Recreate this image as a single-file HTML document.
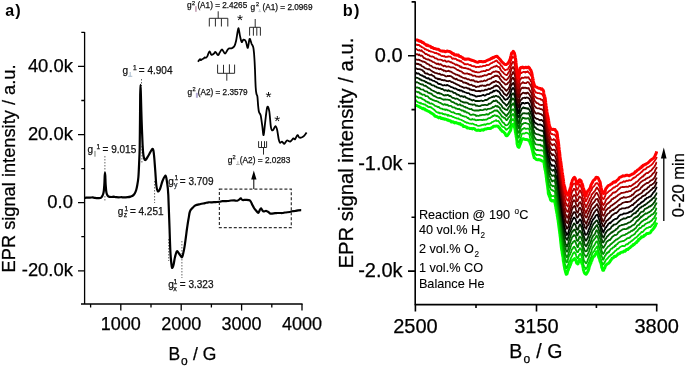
<!DOCTYPE html>
<html><head><meta charset="utf-8">
<style>
html,body{margin:0;padding:0;background:#fff;width:685px;height:366px;overflow:hidden}
svg{display:block;-webkit-font-smoothing:antialiased;will-change:transform;font-family:"Liberation Sans",sans-serif}
.ax text,text.ax{stroke:#000;stroke-width:0.25px}.lg text{stroke:#000;stroke-width:0.1px}text.lg2{stroke:#000;stroke-width:0.2px}
</style></head>
<body>
<svg width="685" height="366" viewBox="0 0 685 366">
<rect width="685" height="366" fill="#fff"/>
<!-- ================= Panel a ================= -->
<text x="5.2" y="15.7" font-size="16" font-weight="bold">a</text><text x="15.3" y="15.7" font-size="16.3" font-weight="bold">)</text>
<g stroke="#000" stroke-width="1.3" fill="none">
  <path d="M84.6,32 V304.6 M81,304 H302.6"/>
  <path d="M78,66.4 H84.6 M78,134.6 H84.6 M78,202.6 H84.6 M78,270.8 H84.6"/>
  <path d="M81.3,32.4 H84.6 M81.3,100.5 H84.6 M81.3,168.7 H84.6 M81.3,236.7 H84.6"/>
  <path d="M120.8,304 V310.6 M181.2,304 V310.6 M241.6,304 V310.6 M302,304 V310.6"/>
  <path d="M90.6,304 V307.5 M151,304 V307.5 M211.4,304 V307.5 M271.8,304 V307.5"/>
</g>
<g class="ax" font-size="18.4" text-anchor="end">
  <text x="72.9" y="71.5">40.0k</text>
  <text x="72.9" y="139.7">20.0k</text>
  <text x="72.9" y="207.6">0.0</text>
  <text x="72.9" y="275.7">-20.0k</text>
</g>
<g class="ax" font-size="18" text-anchor="middle">
  <text x="120.8" y="329.8">1000</text>
  <text x="181.2" y="329.8">2000</text>
  <text x="241.6" y="329.8">3000</text>
  <text x="302" y="329.8">4000</text>
</g>
<g class="ax"><text x="168.4" y="359.9" font-size="17.5">B</text><text x="180.9" y="364.6" font-size="12">o</text><text x="193.1" y="359.9" font-size="17.5">/ G</text></g>
<text class="ax" transform="translate(14.6,168.5) rotate(-90)" font-size="18.25" text-anchor="middle">EPR signal intensity / a.u.</text>

<!-- dotted guide lines -->
<g stroke="#555" stroke-width="0.9" stroke-dasharray="1.5,1.5" fill="none">
  <path d="M104.9,156 V173 M104.9,196 V201"/>
  <path d="M141.5,79 V86 M141.9,146 V164"/>
  <path d="M154.6,181 V203"/>
  <path d="M168.7,239 V261"/>
  <path d="M181.9,241 V278"/>
</g>
<!-- main spectrum -->
<path d="M84.8,197.8 C85.2,197.8 86.5,197.6 87.4,197.5 C88.3,197.5 89.2,197.6 90,197.6 C90.8,197.6 91.7,197.4 92.5,197.4 C93.3,197.5 94.1,197.8 95,197.9 C95.9,198 96.8,198.1 97.7,198.1 C98.6,198.1 99.7,198.2 100.4,198 C101.1,197.8 101.4,197.4 101.8,196.8 C102.2,196.2 102.7,195.5 103,194.5 C103.3,193.5 103.6,192.6 103.8,191 C104,189.4 104.1,187.5 104.3,185 C104.5,182.5 104.6,178 104.7,176 C104.8,174 104.9,172.8 105,172.8 C105.1,172.8 105.2,174 105.3,176 C105.4,178 105.5,182.5 105.7,185 C105.9,187.5 106,189.4 106.2,191 C106.4,192.6 106.6,193.6 107,194.5 C107.4,195.4 107.8,196.1 108.5,196.5 C109.2,196.9 110.4,197 111.3,197 C112.2,197 113,196.7 113.8,196.7 C114.6,196.8 115.5,197.1 116.3,197.2 C117.1,197.3 117.9,197.3 118.8,197.3 C119.7,197.3 120.5,197.2 121.4,197.2 C122.3,197.2 123,197.4 124,197.4 C125,197.4 126.6,197.3 127.7,197.2 C128.8,197.1 129.6,196.9 130.5,196.6 C131.4,196.3 132.2,196.1 133,195.5 C133.8,194.9 134.5,193.9 135,193 C135.5,192.1 135.8,191.3 136.2,190 C136.6,188.7 136.9,187.2 137.3,185 C137.7,182.8 138.1,180.6 138.4,177 C138.7,173.4 138.9,168.5 139.1,163.7 C139.3,158.9 139.5,155.3 139.7,148 C139.8,140.7 139.9,128.8 140,120 C140.1,111.2 140.1,100.9 140.2,95 C140.3,89.1 140.4,84.8 140.5,84.8 C140.6,84.8 140.7,89.1 140.9,95 C141.1,100.9 141.3,111.7 141.6,120 C141.9,128.3 142.3,139.2 142.6,145 C142.9,150.8 143.1,152.7 143.4,155 C143.7,157.3 143.9,158 144.3,158.8 C144.7,159.6 144.9,160.6 145.6,160 C146.3,159.4 147.3,157.4 148.5,155.5 C149.7,153.6 151.6,148.9 152.5,148.8 C153.4,148.7 153.6,151.5 154,155 C154.4,158.5 154.8,165 155.2,170 C155.6,175 155.9,181.5 156.3,185 C156.7,188.5 157.2,190.5 157.8,191.2 C158.4,191.9 159.2,190.7 160,189 C160.8,187.3 161.6,183.2 162.5,181 C163.4,178.8 164.8,175.3 165.5,175.5 C166.2,175.7 166.5,178.8 167,182 C167.5,185.2 167.9,187 168.3,195 C168.7,203 169.2,220.5 169.6,230 C169.9,239.5 170.1,246.7 170.4,252 C170.7,257.3 170.9,259.4 171.2,262 C171.5,264.6 171.6,267.2 172,267.7 C172.4,268.2 173,266.8 173.5,265 C174,263.2 174.4,259.3 175,257 C175.6,254.7 176.2,251.9 176.9,251.3 C177.6,250.7 178.2,252.5 179,253.5 C179.8,254.5 181.2,257.4 181.9,257.3 C182.6,257.2 182.9,254.8 183.3,253 C183.8,251.2 184,250.2 184.6,246.4 C185.2,242.6 186.2,234.6 186.8,230 C187.5,225.4 187.9,222.2 188.5,219 C189.1,215.8 189.3,212.9 190.1,211 C190.8,209.1 192.1,208.4 193,207.5 C193.9,206.6 194.3,205.9 195.6,205.3 C196.8,204.7 198.9,204.4 200.5,204 C202.1,203.6 203.7,203.4 205,203.1 C206.3,202.8 207.3,202.4 208.5,202.3 C209.7,202.2 210.8,202.3 212,202.3 C213.2,202.3 214.5,202.1 215.7,202.1 C216.9,202 218.3,202 219.4,201.8 C220.5,201.6 221.3,201.2 222.3,201.1 C223.2,201 224.2,201.2 225.1,201.2 C226.1,201.2 227,201.1 228,201 C229,200.9 230.1,200.6 231.1,200.5 C232.1,200.4 233.2,200.4 234.2,200.4 C235.2,200.5 236.4,200.9 237.3,200.7 C238.2,200.5 238.9,199.7 239.5,199.3 C240.1,198.9 240.3,198.3 240.8,198.4 C241.3,198.5 241.6,199.8 242.5,200 C243.4,200.2 244.8,199.8 246,199.8 C247.2,199.9 248.8,199.9 249.6,200.3 C250.4,200.7 250.5,201.2 251,202 C251.5,202.8 251.9,204 252.4,205 C252.9,206 253.4,207.1 254,208 C254.6,208.9 255.3,209.7 256,210.5 C256.7,211.3 257.7,212.9 258.3,212.8 C258.9,212.7 259.4,210.7 259.8,210 C260.2,209.3 260.6,208.3 261,208.4 C261.4,208.5 262.1,210 262.5,210.5 C262.9,211 263.1,211.4 263.6,211.5 C264.1,211.6 264.9,211.1 265.5,211 C266.1,210.9 266.4,210.9 267,211.2 C267.6,211.4 268.4,212.1 269,212.5 C269.6,212.9 269.6,213.5 270.6,213.6 C271.6,213.7 273.9,213.3 275,213.2 C276.1,213.1 276.7,213.1 277.5,213 C278.3,213 279.2,213 280,213 C280.8,213 281.7,213.1 282.5,213 C283.3,213 283.8,212.7 285,212.5 C286.2,212.3 288.7,212.2 289.9,212 C291.1,211.8 291.6,211.3 292.4,211.2 C293.3,211 294.1,211.1 295,211 C295.9,210.9 297.1,210.5 298.1,210.3 C299.1,210.2 300.7,210.1 301.2,210.1" fill="none" stroke="#000" stroke-width="2.2" stroke-linejoin="round"/>
<!-- zoom box -->
<rect x="219.4" y="189.1" width="71.9" height="38.6" fill="none" stroke="#333" stroke-width="1.2" stroke-dasharray="3,2"/>
<path d="M253.8,189 V178" stroke="#000" stroke-width="1"/>
<path d="M253.8,170.5 L251.2,179.5 L256.5,179.5 Z" fill="#000"/>
<!-- inset -->
<path d="M198,61.8 C198.3,61.4 199.4,59.6 199.9,59.3 C200.4,59 200.6,60.2 201,60.2 C201.4,60.2 202,59.3 202.4,59 C202.8,58.7 203.1,58.9 203.5,58.6 C203.9,58.3 204.4,57.5 204.8,57.4 C205.2,57.3 205.6,58 206,57.8 C206.4,57.6 206.7,57.4 207.3,56.4 C207.9,55.4 208.7,51.8 209.4,51.5 C210.1,51.2 210.7,54.4 211.4,54.8 C212.2,55.1 213.2,54.1 213.9,53.6 C214.6,53.1 214.8,51.7 215.5,52 C216.2,52.3 217.3,55.1 218,55.2 C218.7,55.3 218.9,53.8 219.6,52.8 C220.3,51.8 221.1,49.4 222,49.5 C222.9,49.6 224,53.6 225,53.6 C226,53.6 227.1,50.4 227.8,49.5 C228.5,48.6 228.7,48.6 229.4,48.4 C230.1,48.2 231.1,48.6 231.9,48.2 C232.7,47.8 233.6,47.4 234.3,46.2 C235,45.1 235.5,43.5 236,41.3 C236.5,39.1 237,35.2 237.4,33 C237.8,30.8 238.1,28.4 238.4,28.2 C238.7,28 239,30.6 239.3,32 C239.6,33.4 239.7,34.7 240.1,36.4 C240.5,38.1 241.1,41.5 241.7,42.1 C242.2,42.7 242.7,39.8 243.4,39.7 C244.1,39.6 245.1,39.9 245.8,41.3 C246.5,42.7 247.2,48.3 247.8,47.9 C248.4,47.5 249,39.6 249.6,38.9 C250.2,38.2 251,42.4 251.6,43.8 C252.2,45.1 252.8,45.5 253.2,47 C253.6,48.5 253.8,50.6 254,52.8 C254.2,55 254.3,57.1 254.5,60 C254.7,62.9 254.8,65.4 255,70 C255.2,74.6 255.4,83.5 255.7,87.5 C255.9,91.5 256.2,92.5 256.5,94 C256.8,95.5 257.1,94.5 257.4,96.6 C257.7,98.7 257.9,103.8 258.2,106.4 C258.5,109 258.6,110.6 259,112.1 C259.4,113.6 260.1,113.1 260.7,115.4 C261.2,117.7 261.8,122.7 262.3,126 C262.8,129.3 263.1,135.6 263.6,135.1 C264.1,134.6 264.5,127.4 265.1,122.8 C265.7,118.2 266.5,109.3 267.2,107.4 C267.9,105.5 268.7,107.9 269.3,111.3 C269.9,114.7 270.4,124.6 271,127.7 C271.6,130.8 272.3,130.5 273,130.2 C273.7,129.9 274.7,126.2 275.4,126.1 C276.1,126 276.4,127.1 277,129.3 C277.6,131.5 278.2,136.9 278.7,139.2 C279.2,141.4 279.4,142.4 280,142.8 C280.6,143.2 281.3,141.4 282,141.6 C282.7,141.8 283.6,144 284.4,143.8 C285.2,143.6 285.9,140.9 286.9,140.5 C287.9,140.1 289.1,141.9 290.2,141.6 C291.3,141.2 292.6,138.8 293.4,138.4 C294.2,138 294.4,139.8 295.1,139.2 C295.8,138.6 296.8,135.4 297.5,135.1 C298.2,134.8 298.5,137.1 299.2,137.5 C299.9,137.9 300.8,137.8 301.6,137.5 C302.4,137.2 303.3,136.7 304.1,135.9 C304.9,135.1 306.2,133.2 306.6,132.6" fill="none" stroke="#000" stroke-width="1.8" stroke-linejoin="round"/>
<g stroke="#2a2a2a" stroke-width="1" fill="none">
  <path d="M218.2,11.3 V18.3 M209.3,18.3 H227.8 M209.3,18.3 V26.5 M215.4,18.3 V26.5 M221.4,18.3 V26.5 M227.8,18.3 V26.5"/>
  <path d="M255.2,19 V27.3 M249.6,27.3 H260.4 M249.6,27.3 V35.7 M253.4,27.3 V35.7 M256.8,27.3 V35.7 M260.4,27.3 V35.7"/>
  <path d="M217.6,64.6 V73.3 M223.5,64.8 V73.3 M229.4,64.3 V73.3 M234.6,64.6 V73.3 M217.6,73.3 H234.6 M226.8,73.3 V80.7"/>
  <path d="M258.6,141.2 V147.5 M261.5,141.2 V147.5 M264.5,141.2 V147.5 M266.6,141.2 V147.5 M258.6,147.5 H266.6 M263.5,147.5 V154.6"/>
</g>
<g font-size="15.5" text-anchor="middle">
  <text x="240" y="25">*</text>
  <text x="268.5" y="102.2">*</text>
  <text x="277.2" y="126.4">*</text>
</g>
<!-- annotations -->
<g fill="#111" stroke="#111" stroke-width="0.25">
  <!-- g2||(A1) = 2.4265 -->
  <text x="186.9" y="7.9" font-size="8.3">g</text>
  <text x="192.1" y="4.5" font-size="5.6">2</text>
  <rect x="195" y="6.2" width="1.8" height="5.6" fill="#c8a8b8" stroke="none"/>
  <text x="197.4" y="7.9" font-size="8.2">(A1) = 2.4265</text>
  <!-- g2perp(A1) = 2.0969 -->
  <text x="250.5" y="9.9" font-size="8.3">g</text>
  <text x="255.9" y="5.7" font-size="5.6">2</text>
  <path d="M259.7,9 V11.6 M258.3,11.6 H261.1" stroke="#b8c0c8" stroke-width="0.8" fill="none"/>
  <text x="262.6" y="9.9" font-size="8.2">(A1) = 2.0969</text>
  <!-- g2||(A2) = 2.3579 -->
  <text x="187.4" y="94.7" font-size="8.3">g</text>
  <text x="192.4" y="91.2" font-size="5.6">2</text>
  <rect x="195.9" y="92.8" width="2" height="5" fill="#b0a8d0" stroke="none"/>
  <text x="197.8" y="94.7" font-size="8.2">(A2) = 2.3579</text>
  <!-- g2perp(A2) = 2.0283 -->
  <text x="227.8" y="162.8" font-size="8.5">g</text>
  <text x="232.5" y="159.2" font-size="5.6">2</text>
  <path d="M237.9,161.2 V164.5 M236,164.5 H239.7" stroke="#aaa" stroke-width="0.9" fill="none"/>
  <text x="239.8" y="162.8" font-size="8.3">(A2) = 2.0283</text>
  <!-- g_perp^1 = 4.904 -->
  <text x="122.6" y="73.8" font-size="10">g</text>
  <path d="M130.2,72 V76.3 M128.2,76.3 H132.3" stroke="#9fb4c8" stroke-width="0.9" fill="none"/>
  <text x="133" y="69.6" font-size="6.6">1</text>
  <text x="138.8" y="73.8" font-size="10">= 4.904</text>
  <!-- g_par^1 = 9.015 -->
  <text x="87.4" y="152.9" font-size="10">g</text>
  <rect x="94" y="150.9" width="1.9" height="5.8" fill="#b4b8b4" stroke="none"/>
  <text x="96.6" y="148.7" font-size="6.5">1</text>
  <text x="102.6" y="152.9" font-size="10">= 9.015</text>
  <!-- g_y, g_z, g_x -->
  <text x="168.2" y="184.6" font-size="10">g</text>
  <text x="174.4" y="180" font-size="6.6">1</text>
  <text x="173.9" y="187" font-size="6.8" fill="#456">y</text>
  <text x="179.8" y="184.5" font-size="10">= 3.709</text>
  <text x="117.8" y="215" font-size="10">g</text>
  <text x="124.4" y="210.6" font-size="6.6">1</text>
  <text x="123.8" y="217.3" font-size="6.8">z</text>
  <text x="129.9" y="214.7" font-size="10">= 4.251</text>
  <text x="168.2" y="287.6" font-size="10">g</text>
  <text x="173.4" y="284.3" font-size="6.8">1</text>
  <text x="173.2" y="290.6" font-size="7">x</text>
  <text x="179.8" y="287.6" font-size="10">= 3.323</text>
</g>

<!-- ================= Panel b ================= -->
<text x="342.8" y="15.7" font-size="16.3" font-weight="bold">b</text><text x="354" y="15.7" font-size="16.3" font-weight="bold">)</text>
<path d="M415.5,105.2 L416,105.6 L416.8,105.5 L417.7,106 L418.6,106.5 L419.3,106.7 L420.1,107.4 L420.8,107.6 L421.6,108 L422.4,108.8 L423.2,108.2 L424,109.1 L424.8,108.9 L425.6,110.1 L426.4,110.2 L427.3,110.8 L428.1,111.1 L428.9,111.6 L429.6,111.8 L430.5,112.6 L431.4,113.1 L432.5,113.7 L433.9,114.7 L435.1,116.2 L436.3,116.4 L437.2,116.9 L438.1,117.3 L438.8,117.9 L439.6,117.3 L440.4,117.5 L441.3,118.5 L442.1,118.2 L442.9,118.8 L443.7,118.6 L444.5,119.2 L445.3,119.1 L446.1,119.4 L446.9,119.7 L447.7,120.3 L448.5,120 L449.4,120.8 L450.4,120.8 L451.4,122 L452.5,121.7 L453.5,122 L454.5,123 L455.6,122.5 L456.6,122.9 L457.6,123.3 L458.5,123.5 L459.3,124 L460.1,123.6 L460.9,124.7 L461.7,124.9 L462.6,124.9 L463.4,126.5 L464.2,126.6 L465,126.5 L465.8,127 L466.6,127 L467.4,128 L468.3,127.9 L469.1,128.1 L469.9,128.6 L470.7,128.5 L471.5,128.5 L472.3,128.9 L473.1,128.5 L473.9,128.5 L474.6,128.9 L475.4,129.7 L476.1,130.1 L477,130.5 L478,130 L479.1,130.3 L480.2,130.6 L481.2,129.9 L482.3,129.8 L483.4,130.2 L484.4,129.3 L485.5,129 L486.6,128.9 L487.8,128.4 L488.9,128.4 L490,128.5 L491,128.2 L491.9,127.4 L492.7,127.2 L493.5,126.2 L494.3,126.2 L495,126.3 L495.6,126.1 L496.3,125.9 L497,126 L497.6,126.3 L498.3,126.3 L499,127.7 L499.7,128 L500.5,129.4 L501.3,129.9 L502,131.2 L502.6,131.3 L503.2,131.7 L503.8,132.1 L504.4,132.9 L505,133.3 L505.5,134.7 L506.1,135.5 L506.8,135.8 L507.6,135.2 L508.6,133.9 L509.5,132.1 L510.2,131.2 L510.7,130.1 L510.9,128.6 L511.2,127.7 L511.4,126.3 L511.7,125.5 L512,125.6 L512.2,124.9 L512.5,125.3 L512.8,124.5 L513,124.3 L513.3,124.9 L513.6,124.1 L513.9,125.6 L514.2,125.7 L514.4,126.9 L514.7,127.7 L515,129.1 L515.2,130.2 L515.4,132.3 L515.6,132.8 L515.7,133.3 L515.8,134.3 L515.9,134.4 L516,134.8 L516.1,135.8 L516.2,136.9 L516.3,137 L516.5,137.7 L516.6,138.6 L516.7,139.6 L516.8,140.2 L516.9,140.6 L517,142.1 L517,142.9 L517.1,144.1 L517.3,144.1 L517.6,145.6 L518,146.6 L518.5,147.1 L518.9,147.4 L519.3,146.6 L519.7,145.1 L520.1,144.6 L520.6,143 L521.1,141.8 L521.5,140.3 L522.1,139.4 L523,138.7 L524.3,139.2 L526,139.4 L527.6,139.7 L528.8,140.5 L529.4,140.4 L529.7,141.1 L529.8,142.5 L530,142.5 L530.3,143.6 L530.6,144.2 L530.9,145.1 L531.2,145.4 L531.4,146.3 L531.6,147.1 L531.8,147.9 L532,149.2 L532.2,149.6 L532.5,150.9 L532.7,151.2 L532.9,152.8 L533.1,153.1 L533.2,154.1 L533.4,154.8 L533.7,155.8 L534,157 L534.2,157.8 L534.7,157.9 L535.3,158.5 L536.3,159.6 L537.6,159.8 L539,159.6 L540.2,160 L541.2,160.4 L542.2,161.1 L543,161.3 L543.6,161.3 L543.9,161.7 L544.1,162.3 L544.1,163.4 L544.2,164.3 L544.4,165.1 L544.5,166.5 L544.6,167.2 L544.8,167.5 L544.9,168.8 L545.1,169.7 L545.2,170.2 L545.4,170.9 L545.6,171.9 L545.7,173.1 L545.9,173.9 L546,174.8 L546.1,175.4 L546.2,176.6 L546.3,177.1 L546.4,177.8 L546.5,178.6 L546.6,179.9 L546.7,180.4 L546.8,181.3 L546.9,182.1 L547,182.3 L547.1,182.9 L547.2,183.8 L547.4,185.2 L547.5,185.7 L547.6,186.5 L547.7,187.3 L547.8,188.4 L547.9,189 L548,189.7 L548.1,190.3 L548.2,191.1 L548.2,191.9 L548.3,193.1 L548.5,194.1 L548.8,194.6 L549.1,195.7 L549.4,196.2 L549.8,197.4 L550.1,197.8 L550.4,199.5 L550.7,199.9 L551,200.4 L551.3,200.6 L551.7,200.5 L552.1,201 L552.5,200.5 L553,200.5 L553.6,200.7 L554.2,200.8 L554.6,201.9 L554.9,202 L555,202.9 L555.1,203.1 L555.2,204.2 L555.4,204.5 L555.5,205.3 L555.7,206.6 L555.9,207.3 L556,208.7 L556.2,209.1 L556.3,210.1 L556.5,211 L556.6,211.6 L556.8,212.9 L557,213 L557.1,213.7 L557.2,215.3 L557.3,215.7 L557.5,216.9 L557.6,217.2 L557.7,218.4 L557.8,218.7 L557.9,219.7 L558.1,220 L558.2,221.2 L558.3,222.2 L558.4,222.5 L558.5,223.5 L558.7,225.1 L558.8,225.7 L558.9,226.6 L559,227.4 L559.1,228.1 L559.3,229.6 L559.4,230.5 L559.5,230.8 L559.6,232 L559.7,233 L559.8,233.5 L559.9,233.7 L560,235.2 L560.1,235.9 L560.2,236.7 L560.3,237.4 L560.4,237.9 L560.5,239.9 L560.6,240.3 L560.7,241.3 L560.8,242.3 L560.9,243.4 L561,243.9 L561.1,245 L561.2,245.9 L561.3,247.1 L561.4,247.5 L561.5,248.9 L561.6,248.7 L561.7,249.9 L561.9,250.4 L562,250.9 L562.1,251.7 L562.2,252.6 L562.3,253.7 L562.5,254.5 L562.6,255.4 L562.7,255.9 L562.8,256.3 L563,256.9 L563.1,257.9 L563.2,259.5 L563.3,260.7 L563.4,261.4 L563.6,261.8 L563.7,262.8 L563.8,263.3 L563.9,263.7 L564,264.4 L564.1,265.4 L564.2,265.9 L564.4,266.7 L564.6,268 L564.9,269.6 L565.2,270.5 L565.5,271.9 L565.8,272.6 L566,273.7 L566.3,274.3 L566.6,273.6 L567.1,273.7 L567.6,271.4 L568.2,270.2 L568.7,268.6 L569.1,267.5 L569.4,267.3 L569.8,266.4 L570.1,264.9 L570.4,264.8 L570.7,263.6 L571.1,263 L571.5,261.2 L572,260.8 L572.6,260.2 L573.3,259.7 L573.8,259.4 L574.3,259 L574.7,258.6 L575,258.7 L575.4,259.4 L575.8,260.1 L576.1,261.2 L576.5,262.7 L576.8,263.3 L577.1,263.3 L577.4,263.5 L577.7,264 L578,263.8 L578.3,262.8 L578.7,261.9 L579.1,260.6 L579.4,259.8 L579.7,259.4 L580,260 L580.3,259.7 L580.6,260.3 L581,261.4 L581.4,262.2 L581.8,263.2 L582.2,264.4 L582.5,264.5 L582.7,265.4 L582.9,267 L583.1,267 L583.3,268.9 L583.5,270.2 L583.7,270.5 L584,271.7 L584.5,273.1 L585,273.5 L585.6,274 L586.2,274.3 L586.8,273.3 L587.4,272.2 L587.9,271.5 L588.4,270.1 L588.8,269.2 L589.1,267.8 L589.4,266.4 L589.8,265.6 L590.1,264.7 L590.5,263.5 L590.8,263.5 L591.1,261.8 L591.5,260.9 L591.8,260.8 L592.1,259.9 L592.5,258.3 L593,257.4 L593.6,256.5 L594.2,256.3 L594.8,255.4 L595.3,254.3 L596,253.3 L596.5,251.8 L597,251.6 L597.3,251.6 L597.5,252.6 L597.7,253.7 L597.9,254.3 L598.2,254.4 L598.4,255.8 L598.6,256.8 L598.9,257.6 L599.1,257.9 L599.3,258.4 L599.6,259.1 L599.8,260.3 L600.1,261.5 L600.3,261.7 L600.6,262.4 L600.9,263.2 L601.2,264.3 L601.5,265.6 L601.7,267.2 L602,268.1 L602.3,268.1 L602.5,269.2 L602.8,270.2 L603.1,270.1 L603.5,270.3 L603.9,269.5 L604.3,268.5 L604.8,268 L605.1,266.8 L605.5,265.6 L605.9,265.4 L606.4,264.6 L606.9,264.1 L607.5,263.8 L608,263.6 L608.6,263.2 L609.1,262.6 L609.7,262.1 L610.2,261 L610.8,260.4 L611.4,259.5 L612.1,258.3 L612.8,258.1 L613.5,257.6 L614.2,256.6 L614.8,256.2 L615.5,256.5 L616.3,255.9 L617.3,255 L618.3,253.7 L619.5,253.8 L620.6,252.6 L621.7,252.2 L622.9,252.1 L624,251 L625,251.3 L625.8,250.4 L626.5,249.6 L627.1,249.5 L627.8,249.5 L628.4,248.7 L629.1,248.2 L629.8,247.8 L630.5,247.2 L631.2,246.5 L631.9,245.9 L632.5,245.7 L633.2,244.6 L633.9,244.7 L634.6,244 L635.3,243.3 L635.9,242.7 L636.5,242.5 L637,241.5 L637.6,241.2 L638.1,240.9 L638.6,239.5 L639.2,239.3 L639.7,239 L640.3,238.3 L640.9,238 L641.6,236.7 L642.3,236.9 L643,236.8 L643.7,236.4 L644.3,235.3 L645,235.2 L645.8,234.6 L646.8,233.5 L648,233.5 L649.2,233.1 L650.2,232.8 L650.9,231.7 L651.4,230.8 L651.9,230.3 L652.4,230 L652.9,229.3 L653.4,228.7 L654,228.2 L654.5,226.9 L655.1,226.4 L655.7,224.7 L656.3,223.6 L656.7,222.5" fill="none" stroke="#00ff00" stroke-width="3.0" stroke-linejoin="round"/>
<path d="M415.5,99.9 L416,100.4 L416.8,101.5 L417.7,102.1 L418.6,102.5 L419.3,102.6 L420.1,103.5 L420.8,102.8 L421.6,103.7 L422.4,103.9 L423.2,104 L424,104.5 L424.8,104.4 L425.6,104.8 L426.4,105.9 L427.3,105.9 L428.1,106.9 L428.9,107.1 L429.6,106.9 L430.5,107.1 L431.4,107.6 L432.5,108.6 L433.9,109.5 L435.1,110.7 L436.3,111.9 L437.2,112.3 L438.1,112.8 L438.8,112.4 L439.6,113.3 L440.4,113.1 L441.3,113.3 L442.1,113.2 L442.9,114.1 L443.7,113.8 L444.5,114.6 L445.3,114.1 L446.1,114.7 L446.9,114.6 L447.7,115.7 L448.5,115 L449.4,115.9 L450.4,115.8 L451.4,116 L452.5,116.9 L453.5,117 L454.5,117.6 L455.6,117.8 L456.6,118.4 L457.6,118.7 L458.5,118.5 L459.3,119.3 L460.1,119.5 L460.9,119.7 L461.7,120.1 L462.6,120.7 L463.4,120.8 L464.2,121.5 L465,122 L465.8,122.1 L466.6,122.8 L467.4,122.7 L468.3,123 L469.1,123.5 L469.9,123.7 L470.7,123.7 L471.5,123.8 L472.3,123.5 L473.1,123.8 L473.9,124.4 L474.6,124.7 L475.4,124.8 L476.1,124.8 L477,125.5 L478,125.8 L479.1,125.8 L480.2,125.5 L481.2,125.3 L482.3,124.9 L483.4,124.9 L484.4,124.4 L485.5,124.9 L486.6,124 L487.8,123.7 L488.9,123.9 L490,123.5 L491,123.2 L491.9,122.2 L492.7,122 L493.5,121.5 L494.3,121 L495,120.8 L495.6,120.4 L496.3,120.2 L497,121.2 L497.6,121 L498.3,120.8 L499,121.8 L499.7,122.9 L500.5,124 L501.3,125.3 L502,126.3 L502.6,126.7 L503.2,127.1 L503.8,127.1 L504.4,127.4 L504.9,128.1 L505.5,128.9 L506.1,129.9 L506.8,129.6 L507.6,128.7 L508.5,128.3 L509.4,127.1 L510.1,125.6 L510.6,124.7 L510.9,123.1 L511.1,121.5 L511.4,120.7 L511.7,119.8 L511.9,119.3 L512.2,120.3 L512.5,119.5 L512.8,119.3 L513,120 L513.3,119.1 L513.6,120.2 L513.9,120.3 L514.2,120.8 L514.4,121.5 L514.7,122.4 L515,124.1 L515.2,125.3 L515.4,125.9 L515.6,127 L515.7,127.8 L515.8,129.4 L515.9,129.8 L516,130.9 L516.1,131.8 L516.2,132.2 L516.3,133.1 L516.4,133.8 L516.6,134.4 L516.7,135.2 L516.8,135 L516.9,135.5 L516.9,136.4 L517,137.3 L517.1,138.9 L517.3,139.8 L517.6,141.1 L518,142 L518.4,142 L518.9,142.6 L519.3,141.3 L519.7,140.2 L520.1,139.5 L520.6,138.2 L521,137 L521.5,134.9 L522.1,133.8 L522.9,133.5 L524.3,133.7 L525.9,132.7 L527.6,133.1 L528.8,133.9 L529.4,134.4 L529.7,135.4 L529.8,137.1 L530,137.8 L530.3,138.7 L530.6,139.1 L530.9,140.2 L531.2,141.1 L531.5,141.5 L531.7,142.5 L531.8,143.1 L532,144.1 L532.2,144.6 L532.5,145.6 L532.7,146.4 L532.9,147.4 L533.1,147.6 L533.2,149.2 L533.4,149.9 L533.7,150.9 L534,151.5 L534.2,153 L534.7,153 L535.3,153.6 L536.3,155 L537.7,154.9 L539,154.8 L540.2,155.2 L541.2,155.7 L542.2,155.9 L543,156.4 L543.6,156.7 L543.9,156.8 L544,157.6 L544.1,158.1 L544.2,159 L544.3,159.6 L544.5,161.5 L544.6,162.3 L544.8,163 L544.9,164.3 L545,164.2 L545.2,165.1 L545.3,165.9 L545.5,166.9 L545.7,167.7 L545.8,168.8 L545.9,169.1 L546.1,170 L546.2,170.7 L546.3,171.7 L546.4,172.6 L546.5,173 L546.6,174.5 L546.7,174.5 L546.8,175.1 L546.9,176 L547,176.6 L547.1,178.1 L547.2,178.5 L547.3,179.2 L547.4,179.9 L547.5,181.4 L547.6,182.4 L547.7,182.8 L547.8,184.4 L547.9,185 L548,185.6 L548.1,186.2 L548.2,187.2 L548.3,188.2 L548.4,189 L548.7,190 L549,190.3 L549.3,191.1 L549.7,192.1 L550,192.4 L550.3,193.9 L550.6,194.9 L550.9,195.4 L551.2,195 L551.6,196.1 L552,195.9 L552.4,196.2 L553,196.1 L553.6,196.2 L554.1,195.8 L554.6,196.7 L554.9,197.4 L555.1,198.1 L555.2,199.6 L555.4,200.3 L555.6,201.7 L555.8,202.1 L556,203.1 L556.2,204.8 L556.5,205.1 L556.7,206.6 L556.9,207 L557.1,207.7 L557.2,209.2 L557.3,210.1 L557.4,210.8 L557.5,211.4 L557.7,211.9 L557.8,213.1 L557.9,214.1 L558,214.8 L558.1,215.8 L558.2,215.9 L558.4,216.5 L558.5,217.3 L558.6,218.7 L558.7,219.4 L558.8,220.4 L558.9,221.2 L559.1,221.8 L559.2,223.3 L559.3,223.8 L559.4,225.3 L559.5,225.9 L559.6,226.7 L559.7,227.1 L559.8,228.5 L559.9,229.4 L560,230 L560.1,229.9 L560.2,231 L560.3,232.1 L560.4,232.5 L560.5,233.4 L560.6,235 L560.7,235.8 L560.8,236.6 L560.9,237.6 L561,238.6 L561.1,239.6 L561.2,240.5 L561.3,241.1 L561.4,241.8 L561.5,242.5 L561.7,243.3 L561.8,244 L561.9,244.6 L562,245.7 L562.2,246.7 L562.3,246.8 L562.4,248.5 L562.5,249.4 L562.7,250.5 L562.8,250.8 L562.9,252.4 L563,252.5 L563.1,253.6 L563.3,254.3 L563.4,254.6 L563.5,255.8 L563.6,256.5 L563.8,257 L563.9,258.3 L564,259.3 L564.1,259.9 L564.2,260.8 L564.4,261.7 L564.6,262.4 L564.9,263.8 L565.2,264.8 L565.5,265.3 L565.8,266.7 L566.1,267.8 L566.3,268.3 L566.7,268.2 L567.2,267.1 L567.7,265.7 L568.3,264.4 L568.8,262.8 L569.2,261.5 L569.5,261.1 L569.8,261 L570.2,259.9 L570.5,259 L570.8,258.5 L571.1,257.7 L571.5,256.9 L572.1,255.9 L572.6,254.6 L573.2,253.1 L573.8,253 L574.2,252.1 L574.6,252.5 L575,252.8 L575.4,253.8 L575.8,253.9 L576.1,255.5 L576.5,256.8 L576.8,257.3 L577.1,257.2 L577.4,258.1 L577.7,258.3 L578,258 L578.3,257 L578.7,256.4 L579,255.2 L579.4,254.6 L579.7,254.2 L580,253.7 L580.3,253.8 L580.6,253.6 L581,254.9 L581.4,255.8 L581.8,257.6 L582.2,258.8 L582.4,259.3 L582.7,260.7 L582.9,260.9 L583.1,261.7 L583.3,263.3 L583.4,264.2 L583.7,265.4 L584,266.3 L584.4,267.2 L585,267.4 L585.6,269 L586.2,268.9 L586.8,267.9 L587.4,266.5 L587.9,264.7 L588.4,263.7 L588.9,262.7 L589.2,261.7 L589.5,260.5 L589.8,260.4 L590.1,259.5 L590.5,258.4 L590.8,257.9 L591.1,257.1 L591.5,255.9 L591.8,254.9 L592.1,253.8 L592.5,253.1 L593,252.4 L593.6,251.5 L594.2,251.2 L594.8,249.8 L595.3,248.7 L595.9,248.2 L596.5,247.2 L597,246.4 L597.4,246.6 L597.8,247.9 L598.1,250 L598.4,251.2 L598.8,251.7 L599.1,253.1 L599.5,253.7 L599.8,254.8 L600.1,255.9 L600.4,256.7 L600.6,258.2 L600.9,259.1 L601.2,260 L601.4,261.4 L601.7,261.9 L602,262.7 L602.3,262.8 L602.5,264 L602.8,264.4 L603.1,264.6 L603.5,263.9 L603.9,263.8 L604.3,262.6 L604.8,261.7 L605.2,261.8 L605.5,260.2 L606,259.9 L606.4,259.4 L606.9,259.1 L607.5,258.5 L608,257.9 L608.6,257.2 L609.1,256.4 L609.7,256.2 L610.2,255.6 L610.8,254.7 L611.4,254.8 L612.1,254.2 L612.8,253.3 L613.5,252.8 L614.2,252.1 L614.8,251.1 L615.5,250.8 L616.3,250.3 L617.3,248.8 L618.3,248.9 L619.5,247.7 L620.6,246.7 L621.7,246.2 L622.9,245.8 L624,246.2 L625,245.8 L625.8,244.7 L626.5,244.4 L627.1,244.2 L627.8,244.4 L628.4,243.4 L629.1,242.5 L629.8,242.5 L630.5,241.9 L631.2,241.2 L631.9,240.9 L632.5,240.1 L633.2,239.8 L633.9,239.1 L634.6,238.5 L635.3,237.9 L635.9,237.7 L636.5,237.1 L637,236.7 L637.6,236.2 L638.1,235.5 L638.6,235 L639.2,234.4 L639.7,234 L640.3,233.4 L640.9,232.8 L641.6,231.9 L642.3,232.2 L643,231.6 L643.7,230.8 L644.3,230 L645,229.4 L645.8,228.7 L646.8,227.8 L648,227.8 L649.2,226.9 L650.2,227.1 L650.9,226.8 L651.4,225.5 L651.9,225.8 L652.4,224.7 L652.9,224.7 L653.4,223.6 L654,223 L654.5,222 L655.1,221.3 L655.7,219.6 L656.3,217.7 L656.7,217.3" fill="none" stroke="#00db00" stroke-width="1.8" stroke-linejoin="round"/>
<path d="M415.5,95.7 L416,96.4 L416.8,96.6 L417.7,97.1 L418.6,97.9 L419.3,97.7 L420.1,97.7 L420.8,98 L421.6,98.1 L422.4,99.2 L423.2,99.4 L424,99.8 L424.8,100.3 L425.6,101 L426.4,101.7 L427.3,101.6 L428.1,102.6 L428.9,102.3 L429.6,103.4 L430.5,103.6 L431.4,103.4 L432.5,104 L433.9,104.8 L435.1,105.9 L436.3,106.2 L437.2,106.6 L438.1,107.1 L438.8,106.8 L439.6,107.9 L440.4,108.3 L441.3,108.6 L442.1,108.7 L442.9,109.3 L443.7,109.3 L444.5,109.3 L445.3,110 L446.1,109.5 L446.9,109.7 L447.7,110.4 L448.5,110.3 L449.4,110.7 L450.4,111.3 L451.4,112.2 L452.5,112.3 L453.5,112.1 L454.5,113.1 L455.6,113.5 L456.6,113.8 L457.6,113.8 L458.5,113.8 L459.3,114.5 L460.1,114.2 L460.9,115.4 L461.7,115.4 L462.6,116 L463.4,116.1 L464.2,116.5 L465,116.6 L465.8,116.7 L466.6,117 L467.4,118 L468.3,117.9 L469.1,119 L469.9,119.3 L470.7,119.6 L471.5,119.7 L472.3,119 L473.1,119.4 L473.9,119.6 L474.6,119.3 L475.4,120.2 L476.1,120.3 L477,120 L478,120.2 L479.1,119.8 L480.2,119.9 L481.2,119.9 L482.3,120.2 L483.4,119.6 L484.4,119.9 L485.5,119.7 L486.6,119.7 L487.8,118.6 L488.9,118.2 L490,118 L491,117.3 L491.9,116.9 L492.7,115.9 L493.5,116.2 L494.3,115.2 L495,115.3 L495.6,115.6 L496.3,116.1 L497,115.6 L497.6,116.4 L498.3,116.3 L499,117.1 L499.7,118 L500.5,118.9 L501.3,120 L502,121.4 L502.6,122.4 L503.2,122.6 L503.8,122.8 L504.4,123.7 L504.9,124.4 L505.5,125.1 L506.1,125.3 L506.7,125.2 L507.5,125 L508.5,123.9 L509.4,122.3 L510.1,120.7 L510.6,119.2 L510.9,118.7 L511.1,117.6 L511.3,116.3 L511.6,115.1 L511.9,114.9 L512.2,114.9 L512.5,114.3 L512.8,114.7 L513,114.1 L513.3,114 L513.6,114.6 L513.9,114.6 L514.2,115.6 L514.4,116.6 L514.7,117.3 L515,118.3 L515.2,120 L515.4,121.4 L515.6,121.9 L515.7,122.5 L515.8,123.6 L515.9,123.6 L516,124.3 L516.1,125.2 L516.2,126.4 L516.3,127.9 L516.4,128.8 L516.5,129.5 L516.7,130 L516.8,130.2 L516.9,131.7 L516.9,131.7 L517,133 L517.1,133.3 L517.3,134.5 L517.6,135.3 L518,136.5 L518.4,137.2 L518.8,137.9 L519.2,136.6 L519.6,135 L520,133.7 L520.5,131.9 L521,130.7 L521.4,130.5 L522,129.2 L522.9,128.9 L524.2,128 L525.9,128.9 L527.5,128.7 L528.8,128.7 L529.4,129.9 L529.7,130.9 L529.8,132 L530,132.7 L530.3,133.2 L530.6,133.8 L531,135.3 L531.2,135.7 L531.5,136.4 L531.7,137.5 L531.9,137.8 L532.1,138.3 L532.3,139.3 L532.5,140.1 L532.7,141 L532.9,141.6 L533,142.3 L533.2,143.8 L533.4,144.2 L533.7,145 L534,146.7 L534.2,147.2 L534.7,148.1 L535.3,149.2 L536.4,150.1 L537.7,149.9 L539,150.3 L540.2,150.3 L541.2,150.1 L542.1,150.5 L542.9,150.6 L543.5,151 L543.9,152.4 L544,152.7 L544,153.3 L544.1,154.4 L544.3,155.1 L544.4,156.3 L544.6,157 L544.7,157.4 L544.9,157.8 L545,158.2 L545.1,159.6 L545.3,160.4 L545.4,160.6 L545.6,162.2 L545.7,162.5 L545.9,163.7 L546,164.7 L546.1,165.4 L546.2,166.5 L546.3,167.3 L546.4,167.6 L546.5,168.4 L546.6,169.8 L546.7,169.9 L546.8,171 L546.9,171.8 L547,172.9 L547.1,173.1 L547.2,174.2 L547.3,174.2 L547.4,175.5 L547.5,176.2 L547.6,177.3 L547.7,178.3 L547.8,178.8 L547.9,179.8 L548,180.9 L548.1,181.1 L548.2,182.6 L548.4,182.6 L548.6,184.2 L548.9,184.9 L549.3,185.9 L549.6,185.8 L549.9,187.6 L550.2,187.5 L550.5,188.7 L550.8,189.1 L551.2,189.8 L551.5,189.8 L551.9,189.9 L552.4,190.6 L552.9,190.3 L553.5,191 L554.1,191.2 L554.6,191.1 L554.9,192.3 L555.1,192.6 L555.2,194.4 L555.4,195.2 L555.6,195.6 L555.8,196.5 L556,198.1 L556.2,198.8 L556.4,199.6 L556.7,200.4 L556.9,201.3 L557.1,202.4 L557.2,203.4 L557.3,203.7 L557.4,204.2 L557.5,205.7 L557.6,206 L557.7,206.9 L557.8,207.4 L558,208.5 L558.1,209.5 L558.2,209.6 L558.3,210.5 L558.4,211.9 L558.5,212.2 L558.6,213.3 L558.7,213.8 L558.9,214.9 L559,215.9 L559.1,216.1 L559.2,217.9 L559.3,218.7 L559.4,219.3 L559.5,220 L559.6,221.2 L559.7,221.6 L559.8,222.8 L559.9,223.4 L560,223.8 L560.1,224.3 L560.2,225.7 L560.3,226.2 L560.4,227.9 L560.5,228.9 L560.6,229.4 L560.7,230.8 L560.8,231.2 L560.9,232.1 L561,233.4 L561.1,233.8 L561.2,234.4 L561.4,236.1 L561.5,236.5 L561.6,237.1 L561.7,238.2 L561.9,238.7 L562,239.5 L562.1,240.2 L562.2,241 L562.3,241.7 L562.5,242 L562.6,243.5 L562.7,244 L562.8,245 L563,245.8 L563.1,246.8 L563.2,248.4 L563.3,248.8 L563.5,250 L563.6,250.8 L563.7,251.8 L563.8,251.9 L563.9,253.4 L564,253.5 L564.2,254 L564.3,254.6 L564.6,256.4 L564.9,257.7 L565.2,259.1 L565.6,259.4 L565.8,260.9 L566.1,261.8 L566.4,262.4 L566.8,262.3 L567.3,262 L567.8,260 L568.4,257.7 L568.9,256.4 L569.3,255.6 L569.6,255.5 L569.9,254.5 L570.2,254.3 L570.5,252.9 L570.8,252.6 L571.2,251.8 L571.6,250.1 L572.1,249.3 L572.7,248.7 L573.2,247.6 L573.8,247 L574.2,246.6 L574.6,247.3 L575,248 L575.4,248 L575.7,249.5 L576.1,250.3 L576.4,250.8 L576.8,252 L577.1,252.1 L577.4,251.9 L577.7,251.7 L578,252.1 L578.3,251.4 L578.7,250.2 L579,249.5 L579.4,249.5 L579.7,248.9 L580,248.1 L580.2,248.4 L580.6,248.5 L581,249.1 L581.4,249.9 L581.8,251.2 L582.1,252.6 L582.4,253.5 L582.6,254.7 L582.8,255.5 L583.1,256 L583.2,256.8 L583.4,257.7 L583.6,259.1 L584,260.7 L584.4,261.2 L585,261.9 L585.5,262.7 L586.1,263.4 L586.7,262.6 L587.4,261.2 L588,259.1 L588.5,258.2 L588.9,257.6 L589.2,255.9 L589.5,255.5 L589.8,254.9 L590.2,254.1 L590.5,252.9 L590.8,252.6 L591.2,251.9 L591.5,251 L591.8,249.4 L592.1,248.9 L592.5,247.6 L593,247.2 L593.6,246.1 L594.2,245.7 L594.8,244.3 L595.3,243.5 L595.9,242.2 L596.5,241.3 L597,241.3 L597.4,241.4 L597.8,242.7 L598.1,243.9 L598.4,245.5 L598.8,245.8 L599.1,247.5 L599.5,248 L599.8,249.9 L600.1,250 L600.4,251.2 L600.6,251.7 L600.9,252.6 L601.2,253.6 L601.4,254.7 L601.7,256 L602,256.9 L602.3,257.5 L602.6,258.8 L602.8,259.5 L603.2,259.8 L603.5,259.2 L604,258.4 L604.4,257 L604.8,256.3 L605.2,255.4 L605.6,255.4 L606,254.3 L606.4,253.5 L606.9,252.8 L607.5,253.3 L608,252.4 L608.6,251.7 L609.1,252 L609.7,250.7 L610.2,250 L610.8,249.1 L611.4,248.6 L612.1,248.7 L612.8,247.4 L613.5,247.3 L614.2,247 L614.8,245.7 L615.5,246 L616.3,244.5 L617.3,244.1 L618.3,242.9 L619.5,242 L620.6,241.6 L621.7,241.3 L622.9,241 L624,240.9 L625,240.1 L625.8,239.6 L626.5,239 L627.1,238.4 L627.8,238.2 L628.4,238.2 L629.1,237.6 L629.8,237.8 L630.5,236.9 L631.2,236 L631.9,235.7 L632.5,235.3 L633.2,235 L633.9,234.5 L634.6,234.1 L635.3,233.2 L635.9,232 L636.5,231.7 L637,231.1 L637.6,230.9 L638.1,229.7 L638.6,229.4 L639.2,228.7 L639.7,227.9 L640.3,228.1 L640.9,227.8 L641.6,227 L642.3,226.1 L643,225.7 L643.7,225.9 L644.3,225.3 L645,224.3 L645.8,223.8 L646.8,223.3 L648,222.5 L649.2,222.4 L650.2,221.3 L650.9,221.3 L651.4,220.4 L651.9,220.5 L652.4,219.6 L652.9,218.9 L653.4,218.7 L654,218.3 L654.5,217 L655.1,215.8 L655.7,214.6 L656.3,213.2 L656.7,212.3" fill="none" stroke="#00b600" stroke-width="1.8" stroke-linejoin="round"/>
<path d="M415.5,91.4 L416,91.5 L416.8,91.7 L417.7,92.3 L418.6,92 L419.3,92.5 L420.1,93.6 L420.8,93.4 L421.6,94.3 L422.4,94.8 L423.2,94.6 L424,94.7 L424.8,95 L425.6,96.1 L426.4,96.1 L427.3,96.2 L428.1,96.6 L428.9,97.9 L429.6,98.3 L430.5,99 L431.4,99.1 L432.5,99.9 L433.9,100.4 L435.1,100.8 L436.3,101 L437.2,101.4 L438.1,101.7 L438.8,102.2 L439.6,102.6 L440.4,102.8 L441.3,103.5 L442.1,103.9 L442.9,104.4 L443.7,104.8 L444.5,104.1 L445.3,104.4 L446.1,105.1 L446.9,104.6 L447.7,104.8 L448.5,105.9 L449.4,105.8 L450.4,105.8 L451.4,106.1 L452.5,107.3 L453.5,107.4 L454.5,107.3 L455.6,108.5 L456.6,108.5 L457.6,109 L458.5,109.2 L459.3,108.9 L460.1,109.7 L460.9,109.8 L461.7,110.7 L462.6,110.5 L463.4,110.6 L464.2,111.7 L465,111.2 L465.8,111.7 L466.6,112.7 L467.4,112.5 L468.3,113 L469.1,113.4 L469.9,114.5 L470.7,114.8 L471.5,114.8 L472.3,114.6 L473.1,114.4 L473.9,114.6 L474.6,114.9 L475.4,114.9 L476.1,116.1 L477,115.5 L478,115.8 L479.1,115.8 L480.2,115.1 L481.2,115.3 L482.3,114.8 L483.4,114.9 L484.4,114.8 L485.5,114.7 L486.6,114.1 L487.8,114.6 L488.9,114.1 L490,112.9 L491,112.8 L491.9,112.2 L492.7,112 L493.5,111.2 L494.3,110.7 L495,110.3 L495.6,110.6 L496.3,110.8 L497,110.3 L497.6,111 L498.3,111.7 L499,112.5 L499.7,113.1 L500.5,114.2 L501.3,115.5 L502,116.7 L502.6,116.7 L503.2,117.3 L503.8,117.8 L504.3,117.9 L504.9,118 L505.4,118.9 L506,119.7 L506.7,120.1 L507.5,119.3 L508.4,117.6 L509.3,117 L510.1,115.7 L510.5,114.6 L510.8,112.6 L511.1,112 L511.3,111 L511.6,109.6 L511.9,109.9 L512.2,109.4 L512.5,109.8 L512.7,109.5 L513,109.8 L513.3,109.7 L513.6,109.2 L513.9,109.6 L514.2,110.5 L514.4,111 L514.7,111.7 L515,112.9 L515.2,113.9 L515.4,115.7 L515.6,116.7 L515.7,116.8 L515.8,118.3 L515.9,118.7 L516,119.6 L516.1,120.5 L516.2,120.8 L516.3,122 L516.4,123 L516.5,123.6 L516.6,124.6 L516.8,125.9 L516.9,126.4 L516.9,127.2 L517,128.3 L517.1,129.2 L517.3,129.1 L517.6,130.4 L517.9,131.9 L518.4,132.7 L518.8,132.9 L519.2,132.4 L519.6,131.1 L520,129.2 L520.5,127.2 L520.9,126.3 L521.4,125.5 L521.9,123.9 L522.8,124 L524.1,123.1 L525.8,123 L527.5,123.6 L528.7,123.8 L529.4,124.8 L529.7,125.9 L529.8,126.8 L530,127.6 L530.3,128.2 L530.7,128.3 L531,129.4 L531.3,129.6 L531.5,130.2 L531.7,132.1 L531.9,132.3 L532.1,134.1 L532.3,134.8 L532.5,135.6 L532.7,136.3 L532.9,136.9 L533,138.1 L533.2,138.2 L533.4,138.7 L533.7,139.9 L533.9,141.1 L534.2,141.8 L534.7,142.6 L535.3,144.1 L536.4,144.4 L537.7,144.6 L539,144.9 L540.2,144.7 L541.2,145.8 L542.1,145.6 L542.9,146.1 L543.5,147.2 L543.8,147.3 L544,147.8 L544,148.9 L544.1,149.5 L544.2,150 L544.4,150.4 L544.5,151.2 L544.7,152.6 L544.8,152.5 L544.9,153.3 L545.1,154.7 L545.2,154.8 L545.4,156.6 L545.5,156.7 L545.7,157.9 L545.8,158.7 L545.9,159.3 L546,159.7 L546.1,161 L546.2,161.3 L546.3,161.8 L546.4,162.4 L546.5,163.1 L546.6,164 L546.7,165 L546.8,166.5 L546.9,167.1 L547,167.6 L547.1,169.1 L547.3,169.7 L547.4,170.3 L547.5,171.1 L547.6,172.2 L547.7,172 L547.8,173 L547.9,173.2 L548,175 L548,176 L548.1,176.7 L548.3,177.9 L548.5,178.8 L548.8,179.5 L549.2,179.4 L549.5,180.6 L549.8,182 L550.1,182.3 L550.4,184 L550.7,184.4 L551.1,185.4 L551.4,185.3 L551.8,185.3 L552.3,185.9 L552.8,186.4 L553.5,186 L554.1,186 L554.6,186.3 L554.9,187.1 L555.1,188 L555.2,188.7 L555.4,189 L555.6,190.7 L555.8,191.4 L556,192.1 L556.2,193.2 L556.4,194.2 L556.6,195.1 L556.9,195.7 L557,196.8 L557.2,197.3 L557.3,197.5 L557.4,198.8 L557.5,198.6 L557.6,199.4 L557.7,200.7 L557.8,202.3 L557.9,202.9 L558,203.2 L558.1,204 L558.2,205.4 L558.3,205.6 L558.5,206.5 L558.6,206.5 L558.7,207.6 L558.8,208.3 L558.9,208.8 L559,210.3 L559.1,210.8 L559.2,211.6 L559.3,212.7 L559.4,213.5 L559.5,214.2 L559.6,215.1 L559.7,215.6 L559.8,216.5 L559.9,217.7 L560,218.3 L560.2,218.6 L560.3,219.8 L560.4,221.3 L560.5,221.9 L560.6,222.9 L560.7,223.6 L560.8,224.5 L560.9,225.1 L561,226.1 L561.1,227.3 L561.2,228.3 L561.3,229.7 L561.4,230.7 L561.5,231.1 L561.7,231.2 L561.8,231.8 L561.9,233.1 L562,233.8 L562.2,235.2 L562.3,235.9 L562.4,237 L562.5,237.4 L562.7,238.7 L562.8,239.7 L562.9,240.6 L563,241.4 L563.2,241.5 L563.3,242.1 L563.4,243.2 L563.5,244.3 L563.7,245.6 L563.8,246.6 L563.9,246.9 L564,247.5 L564.1,248.6 L564.3,249 L564.6,251.1 L564.9,251.7 L565.2,253.6 L565.6,254.9 L565.9,255.2 L566.2,256.9 L566.5,256.7 L566.9,257.4 L567.4,256.2 L567.9,255.4 L568.5,253.5 L569,251.9 L569.4,251.2 L569.7,249.8 L570,248.6 L570.3,248.4 L570.6,246.9 L570.9,246 L571.2,245 L571.6,244.1 L572.1,243.3 L572.7,242.9 L573.2,241.7 L573.8,241.3 L574.2,241.2 L574.6,240.7 L575,241 L575.4,242.2 L575.7,242.3 L576.1,244 L576.4,244.2 L576.8,245.9 L577.1,246 L577.4,247.1 L577.6,246.7 L578,247.1 L578.3,245.6 L578.7,244.4 L579,243.2 L579.4,242.8 L579.7,242.5 L579.9,241.8 L580.2,242 L580.6,243.5 L580.9,243.3 L581.4,245 L581.8,246 L582.1,246.5 L582.4,247.8 L582.6,248.5 L582.8,249.4 L583,250.7 L583.2,251 L583.4,251.8 L583.6,252.5 L583.9,253.9 L584.4,254.8 L584.9,255.2 L585.5,256.1 L586.1,256.9 L586.7,256 L587.4,255 L588,253.7 L588.5,252.7 L589,251.5 L589.3,250.4 L589.6,249.7 L589.9,248.5 L590.2,247.9 L590.5,247.4 L590.9,246.5 L591.2,245.8 L591.5,245.1 L591.8,243.4 L592.1,242.6 L592.5,241.4 L593,240.9 L593.6,240.4 L594.2,239.3 L594.8,238.7 L595.3,238.1 L595.9,237 L596.5,235.6 L597,235.9 L597.4,236.3 L597.8,237.3 L598.1,238.2 L598.4,239.8 L598.8,240.6 L599.1,241.3 L599.5,242.6 L599.8,243 L600.1,244.2 L600.4,245.4 L600.6,246.8 L600.9,247.2 L601.2,248.4 L601.4,249.3 L601.7,250.7 L602,251.6 L602.3,252.5 L602.6,253.6 L602.9,253.6 L603.2,254.1 L603.6,253.4 L604,253.1 L604.4,252.2 L604.8,251.4 L605.2,250.2 L605.6,249.5 L606,249.1 L606.4,248.4 L606.9,248.1 L607.5,247.2 L608,246.5 L608.6,246.2 L609.1,246 L609.7,245.6 L610.2,244.8 L610.8,244 L611.4,244 L612.1,243.1 L612.8,242.5 L613.5,242.2 L614.2,241.2 L614.8,240.8 L615.5,240.4 L616.3,239.4 L617.3,239.4 L618.3,238.3 L619.5,237.7 L620.6,236.6 L621.7,235.9 L622.9,235.3 L624,235.1 L625,234.9 L625.8,234.1 L626.5,233.8 L627.1,233.6 L627.8,233.2 L628.4,232.5 L629.1,232.5 L629.8,232.2 L630.5,231.6 L631.2,230.8 L631.9,230.7 L632.5,230.9 L633.2,229.6 L633.9,229.8 L634.6,229 L635.3,228.3 L635.9,227.9 L636.5,227 L637,226 L637.6,225.5 L638.1,225.1 L638.6,224.9 L639.2,224.8 L639.7,223.6 L640.3,223.2 L640.9,222.4 L641.6,221.8 L642.3,221.2 L643,220.9 L643.7,220.3 L644.3,219.8 L645,219.9 L645.8,218.9 L646.8,219 L648,217.5 L649.2,216.5 L650.2,216.1 L650.9,215.2 L651.4,215 L651.9,214.5 L652.4,214.5 L652.9,214.2 L653.4,213.8 L654,212.6 L654.5,212.6 L655.1,211.3 L655.7,210.1 L656.3,208.4 L656.7,207.9" fill="none" stroke="#009200" stroke-width="1.8" stroke-linejoin="round"/>
<path d="M415.5,87.4 L416,87.4 L416.8,87.7 L417.7,87.5 L418.6,88.1 L419.3,87.8 L420.1,88.9 L420.8,89.3 L421.6,89.5 L422.4,89.7 L423.2,89.5 L424,90.4 L424.8,90.9 L425.6,91.4 L426.4,91.4 L427.3,91.7 L428.1,92.8 L428.9,92.8 L429.6,93.1 L430.5,93.6 L431.4,93.6 L432.5,95 L433.9,95.9 L435.1,96.3 L436.3,97.1 L437.2,97.5 L438.1,97.8 L438.8,98 L439.6,97.9 L440.4,98.2 L441.3,98.6 L442.1,99.1 L442.9,99.3 L443.7,99.8 L444.5,99.5 L445.3,99.4 L446.1,99.6 L446.9,99.7 L447.7,99.7 L448.5,99.8 L449.4,100 L450.4,100.4 L451.4,101.7 L452.5,102.1 L453.5,102.2 L454.5,103 L455.6,103.7 L456.6,103.7 L457.6,104.9 L458.5,104.9 L459.3,104.4 L460.1,104.4 L460.9,105.4 L461.7,105.7 L462.6,105.6 L463.4,106.3 L464.2,106.9 L465,106.8 L465.8,107.5 L466.6,107.6 L467.4,107.9 L468.3,108.6 L469.1,108.6 L469.9,109.2 L470.7,109.1 L471.5,109 L472.3,109.8 L473.1,110.1 L473.9,110.3 L474.6,110.6 L475.4,110.5 L476.1,110.4 L477,110.5 L478,110.5 L479.1,110.5 L480.2,109.9 L481.2,110.2 L482.3,110.1 L483.4,109.9 L484.4,109.4 L485.5,109.2 L486.6,109.8 L487.8,108.9 L488.9,108.9 L490,108.7 L491,108.3 L491.9,108.1 L492.7,106.9 L493.5,107.4 L494.3,106.6 L495,106.2 L495.6,105.7 L496.3,106 L497,106.7 L497.6,106 L498.3,107.1 L499,107.1 L499.7,107.7 L500.5,109.7 L501.3,110.5 L502,111.3 L502.6,112.3 L503.2,112.8 L503.8,113.3 L504.3,113.3 L504.9,114.6 L505.4,114.8 L506,115.7 L506.6,116 L507.4,114.5 L508.4,113.5 L509.3,111.9 L510,110.7 L510.5,109.3 L510.8,108.1 L511,106.6 L511.3,105.7 L511.6,105 L511.9,104.5 L512.2,104.3 L512.4,104.9 L512.7,103.9 L513,103.8 L513.3,103.3 L513.6,103.6 L513.9,103.8 L514.1,104.4 L514.4,105.9 L514.7,106 L515,107.9 L515.2,108.7 L515.4,110.9 L515.6,112.4 L515.7,112.9 L515.8,113 L515.9,113.9 L516,114.2 L516.1,115.2 L516.2,116.2 L516.3,116.6 L516.4,117.1 L516.5,117.9 L516.6,119.1 L516.7,119.5 L516.9,120.4 L516.9,121.3 L517,122 L517.1,123.1 L517.3,123.7 L517.6,124.3 L518,126.3 L518.4,127.6 L518.7,128.1 L519,128.4 L519.2,127.6 L519.4,125.9 L519.6,124.9 L519.8,124.4 L519.9,123.9 L520.1,123.6 L520.4,122.6 L520.9,121.6 L521.4,119.7 L522.1,118.9 L522.7,117.7 L523.4,118 L524.2,118.1 L524.9,118.6 L525.7,118.4 L526.5,118.7 L527.3,118.3 L528.1,118.1 L528.7,118.4 L529.2,119.4 L529.5,120.3 L529.7,121.1 L530,121.9 L530.3,122.7 L530.7,122.7 L531,123.5 L531.3,124.6 L531.5,125 L531.7,125.9 L531.9,126.8 L532.1,128.1 L532.3,129.4 L532.5,129.6 L532.7,130.2 L532.9,131.2 L533,132.7 L533.2,133.6 L533.4,134.4 L533.6,134.5 L533.9,135.9 L534.2,136.7 L534.7,137.4 L535.4,138.7 L536.4,139.6 L537.7,139.8 L539.1,140.2 L540.2,139.7 L541.2,140.4 L542.1,140.5 L542.9,140.4 L543.5,140.4 L543.8,141.3 L544,142.6 L544.1,144 L544.2,145.3 L544.4,146.7 L544.6,147.6 L544.8,148.3 L545,148.7 L545.2,149.6 L545.4,150.5 L545.6,152 L545.7,153.5 L545.9,153.6 L546,154.1 L546.1,154.9 L546.2,155.3 L546.3,156.8 L546.4,157.5 L546.5,157.7 L546.6,158.4 L546.7,159.4 L546.8,160.5 L546.9,161.6 L547,162.5 L547.1,163.2 L547.2,164.3 L547.3,164.2 L547.4,165.3 L547.5,165.8 L547.6,166.9 L547.7,167.5 L547.8,168.5 L547.9,168.9 L548,170.1 L548.1,170.7 L548.2,171.8 L548.5,173.1 L548.8,173.5 L549.1,174.3 L549.4,175.8 L549.7,176.7 L550,176.7 L550.3,177.6 L550.6,178.3 L551,179.5 L551.3,179.7 L551.8,180.8 L552.2,181.5 L552.8,180.7 L553.4,180.7 L554,180.9 L554.5,180.1 L554.9,181.4 L555,181.9 L555.2,183.2 L555.4,183.3 L555.6,184.6 L555.8,185.4 L556,186.2 L556.2,186.8 L556.4,187.7 L556.6,189.2 L556.8,190 L557,190.4 L557.2,191.6 L557.3,192.9 L557.4,193 L557.5,193.9 L557.7,195.3 L557.8,196.1 L557.9,197.1 L558.1,197.9 L558.2,198.6 L558.3,199.8 L558.5,200.5 L558.6,202.1 L558.7,203 L558.9,203.4 L559,204.2 L559.1,205.4 L559.2,206.2 L559.3,207.1 L559.4,207.4 L559.5,208.5 L559.7,209.5 L559.8,209.9 L559.9,211.2 L560,212.2 L560.1,212.7 L560.2,213.8 L560.3,214.8 L560.4,215.8 L560.5,216.5 L560.6,217.6 L560.7,218.9 L560.8,219.3 L560.9,220.4 L561,221.4 L561.1,222.1 L561.2,222.5 L561.3,223.3 L561.5,224.5 L561.6,224.5 L561.7,225.6 L561.8,227.1 L562,227.6 L562.1,228.8 L562.2,229.5 L562.4,230.6 L562.5,230.7 L562.6,231.4 L562.7,232.5 L562.9,233.9 L563,234.2 L563.1,234.8 L563.2,235.7 L563.4,237 L563.5,238.2 L563.6,238.3 L563.8,240 L563.9,240.1 L564,240.8 L564.1,241.8 L564.3,243.4 L564.5,244.2 L564.9,245.8 L565.3,247.3 L565.6,248.2 L565.9,249.5 L566.3,250.9 L566.6,251.2 L567,251.8 L567.5,251 L568,249.8 L568.6,247.5 L569.1,246.5 L569.4,244.5 L569.8,243.7 L570.1,242.6 L570.4,241.8 L570.7,241.1 L570.9,239.9 L571.3,239.5 L571.6,238.8 L572.1,237.3 L572.7,236.5 L573.2,236.4 L573.7,235.2 L574.2,235.4 L574.6,235.1 L575,235.5 L575.3,236.2 L575.7,236.6 L576.1,237.9 L576.4,238.8 L576.7,240.4 L577.1,240.5 L577.3,240.9 L577.6,240.8 L577.9,240.8 L578.3,239.8 L578.6,239.6 L579,237.8 L579.3,236.9 L579.6,236.7 L579.9,236.5 L580.2,237 L580.5,237.4 L580.9,237.4 L581.3,238.1 L581.7,239.4 L582.1,240.7 L582.4,241.4 L582.6,241.9 L582.8,243.6 L583,244.6 L583.2,245 L583.4,246.9 L583.6,247.6 L583.9,248.1 L584.4,249.9 L584.9,251 L585.5,251.3 L586.1,251.1 L586.7,251.2 L587.4,249.5 L588,248.4 L588.6,246.8 L589,245.6 L589.3,245 L589.6,244.3 L589.9,243.6 L590.2,242.7 L590.5,241.8 L590.9,241.4 L591.2,240.7 L591.5,239.5 L591.8,238.5 L592.1,237.7 L592.5,237.3 L593,236 L593.6,235.5 L594.2,234.8 L594.8,234.2 L595.3,233.2 L595.9,231.2 L596.5,230.2 L597,230.5 L597.4,231 L597.8,231.8 L598.1,232.6 L598.4,234 L598.8,234.9 L599.1,235.8 L599.5,236.6 L599.8,237.8 L600.1,238.6 L600.4,239.8 L600.6,241.1 L600.9,241.5 L601.2,243.1 L601.4,244.2 L601.7,245.4 L602,245.6 L602.3,246.3 L602.6,247.7 L602.9,247.4 L603.2,247.5 L603.6,247.8 L604,246.8 L604.4,246.1 L604.8,245.7 L605.2,244.6 L605.6,244.1 L606,243.3 L606.4,242 L606.9,241.8 L607.5,241 L608,240.9 L608.6,240.5 L609.1,239.9 L609.7,240.2 L610.2,239.8 L610.8,238.7 L611.4,238.2 L612.1,237.1 L612.8,236.6 L613.5,236.1 L614.2,235.4 L614.8,234.9 L615.5,235.1 L616.3,234.9 L617.3,234.1 L618.3,232.3 L619.5,231.6 L620.6,230.7 L621.7,230.1 L622.9,229.3 L624,229 L625,229.1 L625.8,229.1 L626.5,228.8 L627.1,228.4 L627.8,228.5 L628.4,227.3 L629.1,227.2 L629.8,227.6 L630.5,226.6 L631.2,226.5 L631.9,225.7 L632.5,225.5 L633.2,224.9 L633.9,224.8 L634.6,224.2 L635.3,223.4 L635.9,222.4 L636.5,221.4 L637,220.7 L637.6,220.8 L638.1,220.2 L638.6,219.7 L639.2,219.2 L639.7,218.1 L640.3,218 L640.9,216.8 L641.6,217.1 L642.3,215.9 L643,215.8 L643.7,214.9 L644.3,214.7 L645,214 L645.8,213.3 L646.8,213.6 L648,212.7 L649.2,212.2 L650.2,211.4 L650.9,210.9 L651.4,210.7 L651.9,209.8 L652.4,209.6 L652.9,209.3 L653.4,208.6 L654,207.7 L654.5,207.1 L655.1,205.4 L655.7,204.7 L656.3,203.5 L656.7,202.5" fill="none" stroke="#006d00" stroke-width="1.8" stroke-linejoin="round"/>
<path d="M415.5,82.1 L416,82.5 L416.8,82.1 L417.7,82.5 L418.6,82.8 L419.3,83.5 L420.1,83.8 L420.8,84.2 L421.6,84.5 L422.4,84.4 L423.2,84.7 L424,85.7 L424.8,85.8 L425.6,85.7 L426.4,86.5 L427.3,87 L428.1,87.7 L428.9,88.1 L429.6,88.4 L430.5,89.1 L431.4,90 L432.5,90.5 L433.9,91.1 L435.1,91.7 L436.3,92.3 L437.2,92.9 L438.1,93.4 L438.8,92.8 L439.6,93.5 L440.4,93.5 L441.3,93.8 L442.1,94.3 L442.9,94.7 L443.7,95.3 L444.5,95.5 L445.3,95 L446.1,95.4 L446.9,95.1 L447.7,95 L448.5,95.1 L449.4,96.1 L450.4,95.8 L451.4,96.8 L452.5,97.8 L453.5,97.8 L454.5,98.4 L455.6,98.8 L456.6,98.5 L457.6,98.8 L458.5,99.6 L459.3,100 L460.1,100.4 L460.9,101.3 L461.7,101.5 L462.6,102 L463.4,102.1 L464.2,102.7 L465,102.2 L465.8,102.7 L466.6,102.5 L467.4,102.9 L468.3,103.3 L469.1,104.1 L469.9,104.2 L470.7,104.4 L471.5,104.3 L472.3,104.9 L473.1,104.6 L473.9,104.6 L474.6,104.5 L475.4,105.1 L476.1,105.8 L477,105.5 L478,106.1 L479.1,106.1 L480.2,106.1 L481.2,105.4 L482.3,105.2 L483.4,105.2 L484.4,104.9 L485.5,104.9 L486.6,105.2 L487.8,104.8 L488.9,103.7 L490,103.8 L491,103.2 L491.9,102.2 L492.7,101.7 L493.5,100.7 L494.3,101.2 L495,101.1 L495.6,100.5 L496.3,100.5 L497,101 L497.6,102 L498.3,102.5 L499,102.7 L499.7,103.7 L500.5,104.3 L501.3,105.2 L502,106.2 L502.6,107.5 L503.2,108 L503.7,108.3 L504.3,108.3 L504.8,109.2 L505.4,109.4 L505.9,109.7 L506.6,109.8 L507.4,109.8 L508.3,107.9 L509.2,106.6 L509.9,105.9 L510.4,103.9 L510.7,102.8 L511,101 L511.3,100.8 L511.6,99.4 L511.9,99.1 L512.1,98.7 L512.4,98.4 L512.7,99.2 L513,98.7 L513.3,98.6 L513.6,98.8 L513.9,99.2 L514.1,99.5 L514.4,100.4 L514.7,100.9 L515,102.3 L515.2,104 L515.4,104.6 L515.6,105.8 L515.7,107.1 L515.8,107.7 L515.9,108.5 L516,109.4 L516.1,110.3 L516.2,111.6 L516.3,111.9 L516.4,112.6 L516.5,113.9 L516.6,114.6 L516.7,115.1 L516.8,116 L516.9,116.7 L517,118 L517.1,118.3 L517.3,118.9 L517.6,120.5 L517.9,121.2 L518.3,122.3 L518.7,123.1 L518.9,123.3 L519.1,122.1 L519.3,121 L519.5,119.4 L519.7,119.1 L519.9,117.8 L520.1,117.9 L520.4,117.2 L520.8,115.7 L521.4,115 L522,114.2 L522.6,113.4 L523.3,113.4 L524.1,113.2 L524.9,113.4 L525.7,113.4 L526.5,113.7 L527.3,113.4 L528.1,113.5 L528.7,112.9 L529.1,113.9 L529.5,115 L529.7,115.6 L530,116.3 L530.3,117 L530.7,118.4 L531,119.1 L531.3,119.4 L531.5,120.4 L531.7,120.8 L531.9,122.2 L532.1,123.4 L532.3,123.5 L532.5,124.8 L532.7,126.1 L532.9,126.8 L533,127.3 L533.2,128.4 L533.4,129.3 L533.6,129.8 L533.9,130.4 L534.2,132.1 L534.7,133 L535.4,133.6 L536.4,134.2 L537.7,134.3 L539.1,134.7 L540.2,135.2 L541.2,135.7 L542.1,136 L542.9,135.7 L543.5,136.3 L543.8,137.7 L544,138.1 L544.1,139.7 L544.2,140.4 L544.4,140.8 L544.6,141.3 L544.8,142.6 L544.9,143.5 L545.1,144.1 L545.3,145.8 L545.5,146.1 L545.7,146.7 L545.8,148.5 L545.9,149.2 L546,149.5 L546.1,150.8 L546.2,151.1 L546.3,152.3 L546.4,152.8 L546.5,153.9 L546.6,154.4 L546.7,154.7 L546.8,156.3 L546.9,157.2 L547,157.2 L547.1,158 L547.2,159.3 L547.3,159.8 L547.4,161.2 L547.5,161.1 L547.6,161.6 L547.7,163.1 L547.8,163.3 L547.9,164.4 L548,165.5 L548.1,166.4 L548.4,167 L548.7,167.9 L549,168.4 L549.3,169.7 L549.6,170.7 L549.9,172.1 L550.2,172.5 L550.5,174.2 L550.9,174.1 L551.2,174.8 L551.7,175 L552.1,175.9 L552.7,175.9 L553.4,175.4 L554,175.3 L554.5,175.5 L554.8,176 L555,177.2 L555.2,177.2 L555.4,178.3 L555.6,178.9 L555.8,179.5 L556,180.4 L556.2,181.1 L556.4,181.9 L556.6,183.1 L556.8,183.9 L557,184.1 L557.1,185.1 L557.3,185.6 L557.4,187.2 L557.5,187.8 L557.6,189.2 L557.8,190.3 L557.9,190.8 L558,192.3 L558.1,192.6 L558.3,193.7 L558.4,194.8 L558.5,195.5 L558.7,196.7 L558.8,196.9 L558.9,198.3 L559,199.3 L559.1,200.5 L559.3,201.1 L559.4,202.3 L559.5,202.7 L559.6,203.8 L559.7,204.1 L559.8,204.8 L559.9,205.3 L560,206.3 L560.1,207.2 L560.2,208.2 L560.3,209 L560.4,210.1 L560.5,211.1 L560.6,212.7 L560.7,213 L560.8,214.4 L560.9,215 L561,215.3 L561.1,216 L561.3,217.1 L561.4,217.9 L561.5,219 L561.6,219.9 L561.7,220.1 L561.8,221.5 L561.9,221.5 L562,222.5 L562.1,222.8 L562.2,223.3 L562.4,224.7 L562.5,224.9 L562.6,226.5 L562.7,226.8 L562.8,228.1 L562.9,228.7 L563,229.7 L563.1,230 L563.2,231.2 L563.3,231.3 L563.5,232.6 L563.6,233.7 L563.7,233.7 L563.8,234.8 L563.9,235.6 L563.9,235.6 L564,236.8 L564.2,238 L564.5,239.1 L564.9,240.9 L565.3,242.6 L565.6,243.9 L566,244.5 L566.3,245.2 L566.7,246.6 L567.1,246.4 L567.6,244.8 L568.1,243.9 L568.7,241.1 L569.2,240 L569.5,238.8 L569.8,238.4 L570.1,237.2 L570.4,236.4 L570.7,235.4 L571,234.6 L571.3,233.7 L571.7,232.7 L572.1,231.7 L572.7,231.6 L573.2,230.3 L573.7,230.3 L574.2,229.5 L574.6,229.6 L575,229.7 L575.3,230.7 L575.7,231.5 L576.1,232.7 L576.4,233.4 L576.7,234.8 L577,235.5 L577.3,234.6 L577.6,235.4 L577.9,234.6 L578.3,233.3 L578.6,232.5 L579,232.3 L579.3,230.7 L579.6,230.8 L579.9,230.8 L580.2,230.8 L580.5,231.6 L580.9,231.9 L581.3,232.9 L581.7,233.8 L582.1,235.3 L582.3,236.2 L582.6,236.4 L582.8,237.4 L583,238.3 L583.2,238.9 L583.4,239.8 L583.6,240.6 L583.9,241.4 L584.3,243.3 L584.9,244.8 L585.4,245.4 L586,246.4 L586.7,245.6 L587.4,243.8 L588.1,242.9 L588.6,241.3 L589.1,240.5 L589.4,239.5 L589.6,238.1 L589.9,237 L590.3,237 L590.6,236.1 L590.9,235.4 L591.2,234.7 L591.5,234.3 L591.8,233 L592.1,231.9 L592.5,230.9 L593,230.2 L593.6,229.1 L594.2,229 L594.8,227.8 L595.3,227.2 L595.9,226.1 L596.5,225.4 L597,225 L597.4,226.2 L597.8,226.7 L598.1,227.5 L598.4,228.6 L598.8,229.7 L599.1,230.5 L599.5,231.9 L599.8,233.1 L600.1,233.5 L600.4,234.2 L600.6,235.2 L600.9,235.8 L601.2,237.5 L601.4,238.3 L601.7,239 L602,240.1 L602.3,241.7 L602.6,242.1 L602.9,242.2 L603.3,242.5 L603.6,242.1 L604,241 L604.4,240.7 L604.8,239.9 L605.2,238.9 L605.6,238.7 L606,238.5 L606.4,237.7 L606.9,236.8 L607.5,236.1 L608,235.9 L608.6,235.1 L609.1,234.5 L609.7,234.4 L610.2,233.5 L610.8,233.4 L611.4,232.2 L612.1,232.6 L612.8,231.5 L613.5,231.7 L614.2,230.6 L614.8,230.4 L615.5,230.2 L616.3,228.8 L617.3,228.7 L618.3,227 L619.5,225.9 L620.6,225.5 L621.7,225 L622.7,224.8 L623.8,224.7 L625,224.1 L626.4,223.9 L627.9,222.9 L629.3,222.4 L630.5,222 L631.4,220.9 L632,220.5 L632.6,220.2 L633.2,219.1 L633.9,218.4 L634.6,217.6 L635.3,217.8 L635.9,217 L636.5,217.1 L637,216.9 L637.6,215.8 L638.1,216 L638.6,214.8 L639.2,214.8 L639.7,213.4 L640.3,213 L640.9,212.2 L641.6,212 L642.3,211.6 L643,211.7 L643.7,211.2 L644.3,209.8 L645,208.9 L645.8,208.6 L646.8,208.1 L648,207.5 L649.2,206.3 L650.2,206.6 L650.9,205.6 L651.4,205.7 L651.9,204.8 L652.4,204.6 L652.9,204 L653.4,203.5 L654,202.4 L654.5,202.3 L655.1,201 L655.7,199.6 L656.3,198.3 L656.7,197.7" fill="none" stroke="#004900" stroke-width="1.8" stroke-linejoin="round"/>
<path d="M415.5,77.1 L416,77.5 L416.8,77.8 L417.7,77.9 L418.6,78.6 L419.3,78.7 L420.1,79.5 L420.8,79.5 L421.6,80.3 L422.4,80.3 L423.2,80.8 L424,80.8 L424.8,81.3 L425.6,82 L426.4,81.9 L427.3,82.8 L428.1,83.3 L428.9,83.1 L429.6,83.8 L430.5,83.7 L431.4,84.9 L432.5,85.3 L433.9,85.3 L435.1,86.5 L436.3,86.7 L437.2,87.7 L438.1,87.7 L438.8,88 L439.6,88.1 L440.4,88.4 L441.3,89.1 L442.1,88.8 L442.9,89.3 L443.7,89.9 L444.5,90.6 L445.3,90.1 L446.1,90.3 L446.9,90.6 L447.7,91.1 L448.5,90.2 L449.4,90.9 L450.4,91.3 L451.4,91.4 L452.5,91.6 L453.5,92.8 L454.5,92.9 L455.6,93.2 L456.6,94.6 L457.6,94.5 L458.5,94.8 L459.3,95.5 L460.1,96.1 L460.9,96.5 L461.7,96 L462.6,96.3 L463.4,97 L464.2,96.5 L465,96.5 L465.8,97.7 L466.6,97.7 L467.4,98.3 L468.3,98.8 L469.1,98.6 L469.9,99.5 L470.7,99.4 L471.5,100.1 L472.3,100.5 L473.1,99.9 L473.9,100.2 L474.6,100.4 L475.4,101.1 L476.1,100.9 L477,101 L478,101 L479.1,101.2 L480.2,100.8 L481.2,100.5 L482.3,101 L483.4,100.8 L484.4,100.5 L485.5,99.8 L486.6,100 L487.8,99.4 L488.9,98.3 L490,97.9 L491,97.5 L491.9,96.9 L492.7,97 L493.5,96.3 L494.3,96.9 L495,96.2 L495.6,95.9 L496.3,95.8 L497,96.3 L497.6,96.6 L498.3,96.5 L499,97.2 L499.7,97.5 L500.4,98.9 L501.1,99.6 L502,100.7 L503.1,102.4 L504.2,103.3 L505.5,104.4 L506.5,105.8 L507.5,104.4 L508.4,103.6 L509.2,101.8 L509.9,100.6 L510.4,99.5 L510.7,98.8 L511,97.6 L511.2,96.1 L511.5,95.2 L511.8,94.4 L512.1,94.3 L512.4,93.8 L512.7,93.6 L513,93.4 L513.3,93.8 L513.6,93.5 L513.8,93.9 L514.1,94.1 L514.4,95.6 L514.7,96.2 L515,97.3 L515.2,98.2 L515.4,100.2 L515.6,101.8 L515.7,102 L515.8,103.6 L515.9,103.5 L516,104.5 L516.1,105 L516.2,106.2 L516.3,107 L516.4,107 L516.5,107.9 L516.6,109.5 L516.7,109.9 L516.8,110.5 L516.9,111.8 L517,113 L517.1,112.9 L517.3,114.5 L517.5,114.9 L517.9,116.7 L518.3,117.4 L518.6,117.5 L518.9,117.2 L519.1,116.4 L519.3,115.8 L519.5,114.7 L519.7,114.3 L519.8,113.7 L520,112.6 L520.3,112.3 L520.8,110.8 L521.3,109.6 L521.9,108.5 L522.6,108 L523.3,107.3 L524,108.2 L524.8,107.7 L525.6,108.3 L526.4,108.1 L527.3,108.9 L528,108.1 L528.7,109 L529.1,109.5 L529.4,109.5 L529.7,110.8 L530,111.3 L530.3,111.9 L530.7,112.8 L531,113.7 L531.3,114.7 L531.6,115.3 L531.7,116.2 L531.9,116.2 L532.1,117.3 L532.3,117.6 L532.5,118.7 L532.7,120.1 L532.9,121.2 L533,122.2 L533.2,122.4 L533.4,123.7 L533.6,123.9 L533.9,125.3 L534.2,126.4 L534.7,127.4 L535.4,127.3 L536.4,128.8 L537.7,129.2 L539.1,130 L540.2,130.4 L541.2,130.5 L542.1,130.9 L542.8,130.7 L543.4,131.5 L543.8,132.7 L543.9,133 L544,134.1 L544.2,134.9 L544.3,135.9 L544.5,136.3 L544.7,137.3 L544.9,138 L545.1,138.8 L545.3,139.6 L545.5,141.4 L545.6,141.5 L545.7,143.1 L545.8,143.7 L545.9,143.7 L546,144.5 L546.1,145.3 L546.2,145.9 L546.3,147.5 L546.4,148.1 L546.5,148.7 L546.6,149.5 L546.7,150.4 L546.8,150.7 L546.9,152 L547,152.7 L547.1,153.5 L547.3,154.9 L547.4,155.3 L547.5,155.8 L547.6,156.4 L547.7,157.3 L547.7,157.3 L547.8,158.7 L547.9,159.1 L548.1,159.9 L548.3,160.8 L548.6,161.8 L548.9,162.8 L549.2,163.8 L549.5,164.7 L549.8,166.6 L550.1,167.8 L550.4,168.4 L550.8,169 L551.2,169.9 L551.6,169.8 L552.1,170.4 L552.7,170.9 L553.3,169.9 L554,169.9 L554.5,170.4 L554.9,171.3 L555.2,172.3 L555.5,173.8 L555.7,175 L556.1,176.2 L556.4,176.7 L556.7,177.5 L557,178.8 L557.1,179.4 L557.3,180.1 L557.4,181.1 L557.5,182.3 L557.6,182.4 L557.7,183.5 L557.8,184.8 L558,186 L558.1,186.4 L558.2,187.7 L558.3,188.7 L558.5,189.6 L558.6,189.8 L558.7,190.5 L558.8,191.5 L558.9,192.5 L559,193 L559.1,193.9 L559.2,194.7 L559.3,194.6 L559.4,195.4 L559.5,196.2 L559.6,197.3 L559.7,198.5 L559.7,199 L559.8,199.8 L559.9,200.6 L560,200.8 L560.1,201.7 L560.2,202.7 L560.3,203 L560.4,204.2 L560.5,204.9 L560.5,205.5 L560.6,206.1 L560.7,206.9 L560.8,208.1 L560.9,208.8 L561,209.9 L561.1,210 L561.2,211.3 L561.3,212.1 L561.4,212.8 L561.5,213.5 L561.6,214.4 L561.7,214.8 L561.8,216.2 L562,216.7 L562.1,217.2 L562.2,217.4 L562.3,218.6 L562.4,219.5 L562.5,219.6 L562.6,220.9 L562.7,221 L562.9,221.7 L563,222.8 L563.1,223.9 L563.2,224.5 L563.3,225.4 L563.4,226.1 L563.5,226.7 L563.6,227.7 L563.7,228.6 L563.8,228.8 L563.9,229.9 L564.1,230.2 L564.2,230.8 L564.4,232.6 L564.5,232.9 L564.7,233.3 L564.9,234.3 L565.1,235.3 L565.3,236.5 L565.4,236.9 L565.7,237.4 L566,238.6 L566.4,239.2 L566.8,239.6 L567.2,239.9 L567.7,238.9 L568.2,237.4 L568.8,235.4 L569.3,234.6 L569.6,232.7 L569.9,232.1 L570.2,231.4 L570.5,230.6 L570.8,230.1 L571.1,229.8 L571.4,228.9 L571.7,227.9 L572.2,226.8 L572.7,225.9 L573.2,224.9 L573.7,223.9 L574.1,223.4 L574.6,223.8 L574.9,224.3 L575.3,224.6 L575.7,225.6 L576,226.7 L576.4,227.9 L576.7,229.3 L577,229.2 L577.3,229.1 L577.6,229.5 L577.9,229.3 L578.3,229 L578.6,227 L579,226.4 L579.3,225.3 L579.6,224.7 L579.9,224.5 L580.2,224.4 L580.5,225.4 L580.9,225.9 L581.3,226.4 L581.7,227.6 L582,228.8 L582.3,230.3 L582.5,231.3 L582.7,232.2 L583,233.1 L583.2,234.3 L583.3,234.7 L583.6,235.4 L583.9,236.4 L584.3,237.5 L584.8,238.8 L585.4,240.5 L586,240.7 L586.7,239.7 L587.4,238.3 L588.1,236.9 L588.7,234.8 L589.1,234 L589.4,233.2 L589.7,232.9 L590,231.6 L590.3,230.9 L590.6,230.3 L590.9,229.6 L591.2,228.3 L591.5,228.1 L591.8,227.6 L592.1,226.2 L592.5,225.6 L593,224.8 L593.6,223.7 L594.2,223.1 L594.8,222.7 L595.3,221.6 L595.9,221.1 L596.5,220.4 L597,220.5 L597.4,220.8 L597.8,221.7 L598.1,222.6 L598.4,223.6 L598.8,224.4 L599.1,224.4 L599.5,225.1 L599.8,226.2 L600.1,226.8 L600.4,228.8 L600.6,230.1 L600.9,231.1 L601.2,232.2 L601.4,233.4 L601.7,234.2 L602,235.3 L602.3,236.4 L602.6,236.3 L603,237 L603.3,237.5 L603.7,237.6 L604.1,236.5 L604.5,235.7 L604.9,234.3 L605.2,233.5 L605.6,233.5 L606,232.3 L606.4,232 L606.9,230.8 L607.5,230.8 L608,230 L608.6,229.6 L609.1,229.6 L609.7,228.9 L610.2,228.8 L610.8,228.2 L611.4,226.9 L612.1,226.2 L612.8,226 L613.5,224.7 L614.2,224.7 L614.8,224.5 L615.5,224.4 L616.3,223.9 L617.3,223.2 L618.3,222.2 L619.5,221 L620.6,220.1 L621.7,219.4 L622.7,219.1 L623.8,218.3 L625,218.6 L626.4,218.1 L627.9,217.1 L629.3,217 L630.5,216.5 L631.4,216 L632,215.2 L632.6,214.4 L633.2,214 L633.9,213.4 L634.6,213.2 L635.3,213.3 L635.9,212.9 L636.5,211.4 L637,211.5 L637.6,210.7 L638.1,210.8 L638.6,209.3 L639.2,208.8 L639.7,208.4 L640.3,207.5 L640.9,207.7 L641.6,206.7 L642.3,206.4 L643,206.4 L643.7,205.8 L644.3,205 L645,205 L645.8,204.3 L646.8,203.7 L648,202.5 L649.2,201.8 L650.2,200.6 L650.9,200.5 L651.4,199.6 L651.9,199.7 L652.4,198.8 L652.9,198.4 L653.4,198 L654,197.9 L654.5,197.1 L655.1,195.8 L655.7,195 L656.3,193.8 L656.7,192.4" fill="none" stroke="#002400" stroke-width="1.8" stroke-linejoin="round"/>
<path d="M415.5,72.4 L416,72.8 L416.8,73.5 L417.7,73.4 L418.6,73.5 L419.3,74 L420.1,74.9 L420.8,75 L421.6,75.6 L422.4,75.5 L423.2,76.2 L424,76.9 L424.8,76.5 L425.6,77.6 L426.4,78 L427.3,78.5 L428.1,78 L428.9,78.4 L429.6,79.5 L430.5,79.4 L431.4,79.7 L432.5,80.6 L433.9,80.8 L435.1,81.5 L436.3,82.1 L437.2,82.5 L438.1,83.6 L438.8,84 L439.6,83.9 L440.4,84.3 L441.3,84.4 L442.1,85 L442.9,85.4 L443.7,85.3 L444.5,85 L445.3,85.3 L446.1,85.5 L446.9,84.9 L447.7,85.2 L448.5,85.7 L449.4,86 L450.4,86.6 L451.4,87.1 L452.5,87.3 L453.5,88.1 L454.5,88.5 L455.6,88.5 L456.6,89.1 L457.6,89.6 L458.5,90.1 L459.3,90 L460.1,90.8 L460.9,90.3 L461.7,90.5 L462.6,91.7 L463.4,91.4 L464.2,91.9 L465,92.3 L465.8,92.5 L466.6,92.8 L467.4,93.2 L468.3,93.2 L469.1,93.3 L469.9,94.3 L470.7,94.6 L471.5,94.7 L472.3,94.8 L473.1,95.4 L473.9,95.4 L474.6,95.7 L475.4,96.1 L476.1,96.7 L477,96.5 L478,96.1 L479.1,96.1 L480.2,95.8 L481.2,95.8 L482.3,95.3 L483.4,94.8 L484.4,95.6 L485.5,95.4 L486.6,94.4 L487.8,94.1 L488.9,94.1 L490,93.1 L491,92.4 L491.9,92.5 L492.7,92 L493.5,90.8 L494.3,91.4 L495,90.6 L495.6,90.5 L496.3,90.3 L497,90.4 L497.6,91.4 L498.3,91.1 L499,91.7 L499.7,92.6 L500.4,94 L501.1,95.1 L502,95.9 L503,96.8 L504.2,98.8 L505.4,99.8 L506.5,99.4 L507.5,99.1 L508.4,97.7 L509.2,96.8 L509.9,95.6 L510.3,93.8 L510.7,92.7 L510.9,92.3 L511.2,90.9 L511.5,89.9 L511.8,89.2 L512.1,88.9 L512.4,88.9 L512.7,88.2 L513,87.9 L513.3,88.6 L513.5,88.7 L513.8,88.5 L514.1,89.2 L514.4,89.9 L514.7,90.2 L515,91.9 L515.2,93.5 L515.4,94.6 L515.6,95.8 L515.7,96 L515.8,97.5 L515.9,98.3 L516,99.1 L516.1,99.6 L516.2,101.1 L516.3,101.4 L516.4,102.8 L516.5,103 L516.6,104.3 L516.7,104.6 L516.8,105.5 L516.9,106.8 L517,107.6 L517.1,107.6 L517.2,109 L517.5,109.6 L517.9,111.9 L518.3,113.1 L518.6,113.1 L518.8,112.7 L519.1,111.9 L519.2,111.1 L519.4,109.5 L519.6,108.6 L519.8,108.1 L520,107.3 L520.3,106 L520.7,105 L521.3,104.2 L521.9,103 L522.5,103.3 L523.2,102.8 L524,103.3 L524.8,103.6 L525.6,102.9 L526.4,103 L527.1,103 L527.9,102.7 L528.6,103.5 L529.4,104.2 L530.1,106.5 L530.8,107.4 L531.4,109.2 L531.7,110.2 L531.8,111.1 L532,111.6 L532.1,112.4 L532.3,113.1 L532.5,114.2 L532.7,114.6 L532.9,115.9 L533,116.6 L533.2,117.9 L533.3,118.4 L533.6,119.8 L533.9,120.5 L534.2,121.7 L534.7,122.3 L535.4,123.3 L536.4,123.4 L537.7,124.6 L539.1,124.6 L540.2,124.4 L541.2,125.1 L542.1,125.2 L542.8,126.2 L543.4,126.3 L543.8,127.2 L543.9,127.5 L544,128.4 L544.1,129.4 L544.3,130.8 L544.5,131.4 L544.7,132.3 L544.8,133.4 L545,134.2 L545.2,135.3 L545.4,136 L545.5,137.1 L545.7,137.4 L545.8,137.9 L545.9,138.6 L546,139.3 L546.1,140 L546.2,140.8 L546.3,141.4 L546.4,142.6 L546.5,143 L546.6,143.5 L546.7,144.8 L546.8,145.6 L546.9,145.8 L547,147.4 L547.1,148 L547.2,148.2 L547.3,149 L547.4,149.8 L547.5,151.4 L547.6,151.3 L547.7,151.9 L547.7,152.6 L547.8,153.4 L548,154.3 L548.2,155.5 L548.5,156.4 L548.8,157 L549.1,158.5 L549.4,160 L549.7,160.4 L550,161.9 L550.3,163.2 L550.7,163.9 L551.1,164.6 L551.5,165.2 L552,165.8 L552.6,165.2 L553.3,165.7 L553.9,165.8 L554.5,165.5 L554.9,166.9 L555.2,167.4 L555.4,169.1 L555.7,169.1 L556,169.8 L556.4,171.1 L556.7,171.2 L557,172.8 L557.1,172.9 L557.2,173.9 L557.3,175 L557.4,176.3 L557.5,177.2 L557.7,178.2 L557.8,178.9 L557.9,179.4 L558,180.2 L558.1,180.9 L558.3,181.8 L558.4,182.3 L558.5,183.1 L558.6,184.2 L558.7,184.8 L558.9,185.8 L558.9,187.1 L559,187.8 L559.1,188.2 L559.2,188.2 L559.3,189.5 L559.4,190 L559.5,190.5 L559.6,191.5 L559.7,193.1 L559.7,193.2 L559.8,194 L559.9,195.7 L560,196.2 L560.1,196.9 L560.2,197.5 L560.3,197.8 L560.4,198.9 L560.5,199.9 L560.6,200.4 L560.6,201.1 L560.7,201.9 L560.8,202.7 L560.9,203.8 L561,204.8 L561.1,205.6 L561.2,205.8 L561.3,206.4 L561.5,207.5 L561.6,208.2 L561.7,208.9 L561.8,209.7 L561.9,210.9 L562,211.6 L562.1,212 L562.2,213.3 L562.4,213.8 L562.5,214.5 L562.6,214.8 L562.7,216.3 L562.8,216.7 L562.9,217.9 L563,218.3 L563.1,218.7 L563.2,220.1 L563.4,220.9 L563.5,221.4 L563.6,222.2 L563.7,222.3 L563.8,223.4 L563.9,223.9 L564,224.2 L564.1,225.9 L564.3,226.2 L564.5,227.1 L564.7,227.7 L564.9,228.5 L565.1,229.3 L565.3,230.5 L565.4,230.8 L565.7,231.7 L566,232.5 L566.4,233.8 L566.8,235 L567.3,234.6 L567.8,234.2 L568.3,232.4 L568.9,230.2 L569.4,229 L569.7,228.4 L570,226.7 L570.3,226.1 L570.5,225.2 L570.8,224.3 L571.1,222.9 L571.4,222 L571.8,221.6 L572.2,220.5 L572.7,219.2 L573.2,218.8 L573.7,217.8 L574.1,217.5 L574.5,218.1 L574.9,218.1 L575.3,218.4 L575.7,219.4 L576,220.5 L576.4,221.8 L576.7,223 L577,223.3 L577.3,223.2 L577.6,223.1 L577.9,222.8 L578.2,222.3 L578.6,221.3 L579,221 L579.3,220.3 L579.6,219.5 L579.9,219.4 L580.2,219.6 L580.5,219.7 L580.9,220.4 L581.3,221.4 L581.7,222.5 L582,223.6 L582.3,224.3 L582.5,225.4 L582.7,225.8 L582.9,226.8 L583.1,227.2 L583.3,227.6 L583.5,228.6 L583.9,230.4 L584.3,231.1 L584.8,232.9 L585.3,234.8 L586,234.6 L586.6,234.6 L587.4,233.2 L588.1,231.5 L588.8,229.2 L589.2,229.1 L589.5,227.9 L589.7,227.4 L590,226.6 L590.3,225.7 L590.6,224.5 L590.9,224.4 L591.2,223.4 L591.5,223 L591.8,221.3 L592.1,221.2 L592.5,220.7 L593,219.3 L593.6,219.1 L594.2,218.1 L594.8,217.7 L595.3,216.5 L595.9,215.4 L596.5,215 L597,214.7 L597.4,214.6 L597.8,215.7 L598.1,216 L598.4,217.7 L598.8,218.4 L599.1,219.4 L599.5,220.4 L599.8,221.8 L600,222.5 L600.2,223.1 L600.4,223.8 L600.5,224.7 L600.7,225.3 L600.9,225.7 L601.1,226.7 L601.3,227.2 L601.4,227.4 L601.6,228.2 L601.8,228.6 L602,228.8 L602.3,230.5 L602.6,231.1 L603,231.8 L603.4,232.5 L603.7,232 L604.1,230.2 L604.5,229.9 L604.9,229.2 L605.2,227.7 L605.6,227.3 L606,227.5 L606.4,227.1 L606.9,225.8 L607.5,225.7 L608,224.2 L608.6,223.9 L609.1,223.4 L609.7,222.7 L610.2,223.2 L610.8,222.8 L611.4,221.6 L612.1,221.3 L612.8,220.8 L613.5,219.8 L614.2,219.7 L614.8,219.3 L615.5,218.9 L616.3,218.9 L617.3,218.3 L618.3,216.7 L619.5,215.5 L620.6,214.6 L621.7,214.6 L622.7,214.3 L623.8,213.5 L625,213.7 L626.4,213.3 L627.9,212.9 L629.3,212.1 L630.5,211.5 L631.4,211.6 L632,211.1 L632.6,210.5 L633.2,209.8 L633.8,209.4 L634.4,208.5 L635.1,207.8 L635.9,207.2 L636.9,206.6 L638.1,204.8 L639.3,204.4 L640.3,203.6 L641.1,202.5 L641.8,202.5 L642.4,201.6 L643,201.7 L643.7,200.9 L644.3,200.5 L645,199.2 L645.8,199.1 L646.8,197.8 L648,197.7 L649.2,196.7 L650.2,196.7 L650.9,196.2 L651.4,195.1 L651.9,194.7 L652.4,194.1 L652.9,193 L653.4,192.9 L654,191.8 L654.5,191.3 L655.1,190.8 L655.7,189.2 L656.3,188.1 L656.7,186.7" fill="none" stroke="#000000" stroke-width="1.8" stroke-linejoin="round"/>
<path d="M415.5,68.5 L416,68.4 L416.8,68.7 L417.7,69.1 L418.6,69.2 L419.3,69.2 L420.1,69.4 L420.8,69.5 L421.6,69.8 L422.4,70 L423.2,71.4 L424,71.4 L424.8,73 L425.6,73.3 L426.4,73.7 L427.3,73.3 L428.1,74.2 L428.9,74.5 L429.6,74.8 L430.5,74.8 L431.4,74.5 L432.5,75.7 L433.9,76.1 L435.1,77.7 L436.3,78.4 L437.2,78.5 L438.1,79.2 L438.8,78.6 L439.6,79.3 L440.4,79.1 L441.3,79.8 L442.1,80.1 L442.9,79.9 L443.7,80.4 L444.5,80.1 L445.3,80.6 L446.1,80.7 L446.9,81.1 L447.7,81.2 L448.5,81.3 L449.4,80.8 L450.4,81.3 L451.4,82 L452.5,82.1 L453.5,82.8 L454.5,83.1 L455.6,83.7 L456.6,84.4 L457.6,84.7 L458.5,85.2 L459.3,85.5 L460.1,86.2 L460.9,86.4 L461.7,86.8 L462.6,87 L463.4,87.6 L464.2,87.9 L465,87.6 L465.8,87.6 L466.6,87.7 L467.4,88.4 L468.3,88.5 L469.1,88.5 L469.9,89.8 L470.7,89.3 L471.5,89.9 L472.3,90.3 L473.1,89.9 L473.9,90.3 L474.6,90.1 L475.4,90.9 L476.1,91.1 L477,91.2 L478,91.2 L479.1,90.9 L480.2,91.4 L481.2,90.7 L482.3,90.7 L483.4,90.6 L484.4,90.3 L485.5,89.6 L486.6,89.8 L487.8,89.3 L488.9,88.6 L490,89.1 L491,88.4 L491.9,87.9 L492.7,87.8 L493.5,87 L494.3,86.1 L495,86.5 L495.6,85.8 L496.3,85.3 L497,86.1 L497.6,85.8 L498.3,86.6 L499,87.1 L499.7,87.8 L500.4,89.4 L501.1,90 L502,90.6 L503,92 L504.2,93.9 L505.4,94.6 L506.5,95.7 L507.4,94.4 L508.3,93 L509.1,92 L509.8,90 L510.3,88.5 L510.6,87.1 L510.9,86.2 L511.2,85.2 L511.5,84.5 L511.8,84.9 L512.1,84.4 L512.4,83.6 L512.7,83.5 L513,83.8 L513.3,82.8 L513.5,83.4 L513.8,83.5 L514.1,84.1 L514.4,84.5 L514.7,86.1 L515,86.7 L515.2,88.3 L515.4,89.8 L515.6,91 L515.7,91.6 L515.8,92.3 L515.9,93.5 L516,94 L516.1,94.2 L516.2,95.1 L516.3,96.1 L516.4,97.2 L516.5,97.5 L516.6,98.2 L516.7,99.2 L516.8,99.8 L516.9,100.5 L517,101.8 L517.1,102.3 L517.2,103.1 L517.5,104.7 L517.9,105.4 L518.2,107.1 L518.6,107.4 L518.8,107.7 L519,106.8 L519.2,105.2 L519.4,103.8 L519.6,103 L519.7,102.4 L520,101.5 L520.3,100.3 L520.7,100.2 L521.2,99.7 L521.8,99.2 L522.4,98.1 L523.1,98 L523.9,97.8 L524.7,97.7 L525.5,98.1 L526.3,97.5 L527.1,97.7 L527.9,97.6 L528.6,98.3 L529.4,98.5 L530.1,100.5 L530.8,101.8 L531.4,103.5 L531.7,104.3 L531.9,105 L532,106.2 L532.1,106.7 L532.3,107.4 L532.5,108.5 L532.7,110 L532.8,110.6 L533,111.1 L533.1,112.7 L533.3,112.9 L533.6,114.4 L533.9,115.4 L534.2,116.6 L534.7,117.6 L535.4,117.8 L536.5,118.8 L537.8,118.9 L539.1,119.9 L540.3,120.3 L541.2,119.9 L542.1,120.2 L542.8,121.1 L543.4,120.7 L543.7,121.4 L543.9,122.9 L544,123.1 L544.1,124.4 L544.3,124.6 L544.4,126 L544.6,126.6 L544.8,127.6 L545,128.4 L545.2,129 L545.3,130.4 L545.5,131.6 L545.6,132.1 L545.7,131.9 L545.8,132.9 L545.9,133.4 L546,134.3 L546.1,135.7 L546.2,135.9 L546.3,137 L546.4,138.1 L546.5,138 L546.6,138.8 L546.7,139.9 L546.8,140.4 L546.9,141.6 L547,142.3 L547.1,142.8 L547.2,144.4 L547.3,144.3 L547.4,145.6 L547.5,145.9 L547.6,147.5 L547.7,147.2 L547.8,148 L547.9,148.8 L548.2,149.7 L548.5,150.5 L548.8,151.8 L549.1,152.9 L549.3,153.5 L549.6,155.6 L549.9,156.3 L550.2,157 L550.6,158.3 L551,158.9 L551.4,159.3 L551.9,159.9 L552.5,160.6 L553.2,159.9 L553.9,160.5 L554.5,160.4 L554.9,161.2 L555.2,161.4 L555.4,162.2 L555.7,162.7 L556,163.7 L556.4,164.7 L556.7,166.2 L556.9,166.6 L557.1,167.1 L557.2,168.4 L557.3,169 L557.4,170 L557.5,170.7 L557.6,171.8 L557.7,172.2 L557.8,173.8 L558,174.5 L558.1,174.6 L558.2,175.7 L558.3,175.9 L558.4,176.9 L558.5,177.5 L558.6,178.6 L558.8,179.7 L558.9,180.4 L558.9,180.7 L559,181.3 L559.1,182.4 L559.2,183.5 L559.3,184.6 L559.4,185.3 L559.5,186 L559.6,186.3 L559.7,187.2 L559.8,187.5 L559.8,188.2 L559.9,189.1 L560,190.2 L560.1,191.1 L560.2,191.5 L560.3,192.5 L560.4,194 L560.5,194.4 L560.6,194.4 L560.7,195.2 L560.7,195.6 L560.8,196.2 L560.9,197.8 L561,198.3 L561.2,198.9 L561.3,199.3 L561.4,200.2 L561.5,201.6 L561.6,202.5 L561.7,203.4 L561.8,204.2 L562,204.8 L562.1,205.5 L562.2,206.5 L562.3,207.6 L562.4,208.1 L562.5,208.6 L562.6,209.7 L562.7,210.7 L562.9,211.4 L563,211.4 L563.1,212.3 L563.2,213.1 L563.3,214.1 L563.4,214.3 L563.5,215.5 L563.7,216.2 L563.8,217.2 L563.9,218.2 L564,218.5 L564.1,218.9 L564.3,220.7 L564.5,220.8 L564.7,222 L564.9,223.2 L565.1,223.7 L565.3,224.4 L565.5,225.2 L565.7,225.4 L566.1,226.3 L566.5,228.1 L566.9,228.7 L567.4,228.2 L567.9,227.8 L568.5,226.4 L569,224.3 L569.4,223.1 L569.8,222.6 L570.1,221 L570.3,220.5 L570.6,219.2 L570.9,218.5 L571.2,218 L571.4,217.2 L571.8,216.2 L572.2,215.1 L572.7,214.4 L573.2,213 L573.7,212.9 L574.1,212 L574.5,212.6 L574.9,212.8 L575.3,212.4 L575.7,213.8 L576,214.6 L576.4,216.4 L576.7,217 L577,217.5 L577.3,217.5 L577.6,217.5 L577.9,217 L578.2,216.6 L578.6,215.7 L578.9,214.9 L579.3,214.7 L579.6,213.9 L579.9,213.6 L580.2,214.4 L580.5,213.7 L580.9,215 L581.2,215.2 L581.6,216.5 L582,217.5 L582.2,218.1 L582.5,219.2 L582.7,219.4 L582.9,220.3 L583.1,221.5 L583.3,222.9 L583.5,223.8 L583.8,224.2 L584.3,225.3 L584.8,227.4 L585.4,227.9 L585.9,228 L586.3,228.8 L586.7,227.3 L587,226.3 L587.4,225.5 L587.7,225.1 L588.1,225.3 L588.5,224.1 L588.8,224 L589.1,222.5 L589.4,222.5 L589.7,222 L590,220.9 L590.3,219.5 L590.6,219.1 L591,218.5 L591.3,218.3 L591.6,217.2 L591.8,217.2 L592.1,216.4 L592.5,215.6 L593,214.8 L593.6,213.7 L594.2,212.4 L594.8,211.8 L595.3,210.9 L595.9,210.2 L596.5,209.7 L597,209.1 L597.4,209.6 L597.8,210.7 L598.1,211.5 L598.4,212.5 L598.8,213.1 L599.1,214.5 L599.5,214.6 L599.8,216.1 L600,216.7 L600.2,217 L600.4,217.2 L600.5,218.2 L600.7,218.9 L600.9,219.6 L601.1,220.8 L601.3,221 L601.4,222.3 L601.6,222.8 L601.8,223.4 L602,223.4 L602.3,224.1 L602.6,225.3 L603,226 L603.4,226.3 L603.8,226.4 L604.1,225.6 L604.5,224.5 L604.9,223.3 L605.3,223.3 L605.6,222.3 L606,222 L606.4,220.7 L606.9,220.6 L607.5,220.2 L608,219.8 L608.6,219.2 L609.1,218.4 L609.7,218.3 L610.2,217.7 L610.8,217 L611.4,215.8 L612.1,215.1 L612.8,214.9 L613.5,214.2 L614.2,213.8 L614.8,213.3 L615.5,213 L616.3,213.1 L617.3,212.1 L618.3,211.1 L619.5,209.4 L620.6,209.2 L621.7,208.4 L622.7,208.3 L623.8,208.4 L625,208.4 L626.4,207.7 L627.9,207.6 L629.3,206.9 L630.5,206 L631.4,205.4 L632,204.9 L632.6,205.2 L633.2,204.9 L633.8,203.6 L634.4,203.4 L635.1,202.6 L635.9,202.2 L636.9,200.9 L638.1,200.1 L639.3,198.8 L640.3,198.3 L641.1,197.9 L641.8,197.1 L642.4,196.1 L643,196.2 L643.7,195.9 L644.3,195.4 L645,195.3 L645.8,194.5 L646.8,193.3 L648,192.7 L649.2,191.6 L650.2,190.7 L650.9,190 L651.4,189.9 L651.9,189.5 L652.4,188.4 L652.9,188 L653.4,188.1 L654,187.5 L654.5,187.1 L655.1,185.8 L655.7,184.7 L656.3,183.2 L656.7,181.7" fill="none" stroke="#240000" stroke-width="1.8" stroke-linejoin="round"/>
<path d="M415.5,63.3 L416,64.1 L416.8,63.6 L417.7,64.1 L418.6,63.9 L419.3,64.7 L420.1,64.9 L420.8,64.7 L421.6,66 L422.4,66.4 L423.2,66.6 L424,67.3 L424.8,68 L425.6,68.3 L426.4,68.7 L427.3,69 L428.1,69.3 L428.9,69 L429.6,69.4 L430.5,70.2 L431.4,70.7 L432.5,71.7 L433.9,72.2 L435.1,72.9 L436.3,73.1 L437.2,73.4 L438.1,73.8 L438.8,73.8 L439.6,73.7 L440.4,74.5 L441.3,74.9 L442.1,74.7 L442.9,75 L443.7,75.2 L444.5,75.3 L445.3,76.2 L446.1,76.5 L446.9,76.3 L447.7,75.9 L448.5,76.2 L449.4,75.8 L450.4,76.1 L451.4,76.4 L452.5,77.2 L453.5,78.3 L454.5,78.5 L455.6,79.4 L456.6,78.8 L457.6,79.9 L458.5,80.2 L459.3,80.3 L460.1,80.6 L460.9,81 L461.7,80.9 L462.6,81.6 L463.4,82.7 L464.2,82.6 L465,82.5 L465.8,83.1 L466.6,83 L467.4,83.8 L468.3,83.7 L469.1,84.6 L469.9,84.9 L470.7,84.8 L471.5,84.7 L472.3,85.4 L473.1,86 L473.9,85.7 L474.6,86.1 L475.4,86.6 L476.1,87.2 L477,86.7 L478,86.6 L479.1,86.7 L480.2,85.7 L481.2,85.9 L482.3,85.3 L483.4,85.8 L484.4,85.6 L485.5,85.9 L486.6,85.2 L487.8,84.7 L488.9,84.9 L490,84.2 L491,83.6 L491.9,82.6 L492.7,82.6 L493.5,81.7 L494.3,82.1 L495,81.5 L495.6,80.9 L496.3,81.2 L497,81.7 L497.6,82 L498.3,81.9 L499,82.6 L499.7,83 L500.4,84.3 L501.1,85 L502,86.5 L503,87.5 L504.2,88.4 L505.4,89.9 L506.4,90.8 L507.4,89.6 L508.3,88.9 L509.1,87.5 L509.8,85.7 L510.2,84.6 L510.6,83 L510.9,81.5 L511.1,80.8 L511.5,79.4 L511.8,78.8 L512.1,78.6 L512.4,78.2 L512.7,77.8 L513,77.7 L513.2,77.9 L513.5,78.7 L513.8,79.1 L514.1,78.7 L514.4,79.9 L514.7,80.9 L515,82 L515.2,83.2 L515.4,84.7 L515.6,85.5 L515.7,86.4 L515.8,87 L515.9,88.1 L516,89.5 L516.1,90.2 L516.2,90.2 L516.3,91.3 L516.4,91.9 L516.5,93.1 L516.6,93.6 L516.7,94.4 L516.8,95.9 L516.9,95.8 L517,96.6 L517.1,97.9 L517.2,98.5 L517.5,99.2 L517.8,101.1 L518.2,102.7 L518.5,102.9 L518.8,102.3 L519,101.7 L519.2,100.7 L519.4,98.8 L519.5,97.8 L519.7,97.7 L519.9,96.6 L520.2,95.8 L520.6,94.6 L521.1,94.5 L521.7,93.5 L522.4,93.3 L523.1,92.7 L523.9,92.8 L524.7,93.4 L525.5,92.9 L526.3,93.6 L527.1,92.7 L527.8,92.7 L528.6,93.6 L529.4,94.4 L530.1,95.8 L530.8,96.9 L531.4,98.2 L531.7,99.5 L531.9,100 L532,101 L532.1,102.5 L532.3,103.3 L532.5,104.1 L532.7,104.6 L532.8,105.6 L533,106.5 L533.1,106.9 L533.3,108.1 L533.6,108.6 L533.9,110 L534.2,111 L534.7,111.7 L535.4,113.1 L536.5,113.6 L537.8,113.2 L539.1,113.5 L540.3,114.1 L541.2,114.1 L542.1,115.1 L542.8,115.2 L543.3,116.1 L543.7,116.7 L543.8,117.3 L543.9,117.9 L544,118.8 L544.2,120.1 L544.4,120.8 L544.6,120.9 L544.7,122.2 L544.9,122.4 L545.1,123.5 L545.3,124.4 L545.4,125.2 L545.6,125.7 L545.7,126.7 L545.8,127.7 L545.9,128.5 L546,130 L546.2,130.9 L546.3,131.7 L546.4,132.1 L546.5,134.1 L546.6,134.2 L546.8,135.4 L546.9,136.6 L547,137.6 L547.1,138 L547.2,138.8 L547.4,140 L547.5,141.5 L547.6,141.6 L547.7,142.9 L547.9,144 L548,144.4 L548.2,144.9 L548.4,145.8 L548.6,146.4 L548.8,147.1 L549,147.6 L549.2,148.2 L549.4,148.9 L549.5,149.7 L549.7,150 L549.8,150.9 L550.1,151.7 L550.4,152.5 L550.9,153.4 L551.3,153.5 L551.9,154.7 L552.5,155.2 L553.2,154.5 L553.9,155 L554.5,155.4 L554.9,155.8 L555.2,156.8 L555.4,156.8 L555.7,158.1 L556,158.6 L556.3,159.5 L556.6,160.6 L556.9,161.7 L557.1,162.5 L557.2,163.1 L557.4,163.9 L557.5,164.6 L557.6,166.1 L557.8,166.8 L557.9,168 L558.1,169.5 L558.2,170 L558.4,170.7 L558.5,172.5 L558.7,173.5 L558.8,174.4 L558.9,175.2 L558.9,175.8 L559,175.8 L559.1,176.3 L559.2,177.1 L559.3,177.7 L559.4,179 L559.5,179.6 L559.6,180.8 L559.7,181.8 L559.8,182.7 L559.9,183.2 L559.9,183.7 L560,184 L560.1,185.2 L560.2,186.1 L560.3,187.2 L560.4,188.2 L560.5,188.6 L560.6,189.6 L560.7,190.4 L560.8,190.1 L560.9,191.2 L561,191.7 L561.1,192.2 L561.2,193.9 L561.3,194.3 L561.4,195.5 L561.5,196 L561.7,197.2 L561.8,198.4 L561.9,199 L562,199.2 L562.1,200 L562.2,200.9 L562.4,201.9 L562.5,201.7 L562.6,202.6 L562.7,204 L562.8,204.6 L562.9,205.7 L563,206.4 L563.2,207.4 L563.3,208.4 L563.4,209 L563.5,210.4 L563.6,210.7 L563.7,211.9 L563.8,211.8 L563.9,212.8 L564.1,213.6 L564.3,214.5 L564.5,215 L564.7,215.4 L564.9,216.3 L565.1,217.9 L565.3,218.2 L565.5,220 L565.8,220.5 L566.1,221.8 L566.6,222.4 L567.1,222.8 L567.5,223.3 L567.8,222.7 L568.1,221.9 L568.3,220.8 L568.5,219.9 L568.8,219.5 L569,218.6 L569.3,217.7 L569.5,217.2 L569.8,216.7 L570.1,215.6 L570.4,214.7 L570.7,214.2 L570.9,212.9 L571.2,212.7 L571.5,211.4 L571.8,209.7 L572.2,209.1 L572.7,207.9 L573.2,207.1 L573.7,206.4 L574.1,206.6 L574.5,205.9 L574.9,206.2 L575.3,206.8 L575.6,208 L576,209.9 L576.3,211.1 L576.7,211.7 L577,211.9 L577.3,212.5 L577.6,212.6 L577.9,212.8 L578.2,211.3 L578.6,210.6 L578.9,208.9 L579.3,207.8 L579.6,207.8 L579.9,207.7 L580.2,208 L580.5,208.3 L580.8,208.8 L581.2,209.4 L581.6,210.8 L581.9,212 L582.2,212.9 L582.4,214 L582.7,214.1 L582.9,215.6 L583.1,215.9 L583.3,216.7 L583.5,218 L583.8,218.2 L584.3,220 L584.8,221.4 L585.4,222.5 L585.9,223.3 L586.3,223.9 L586.7,222.9 L587,222.2 L587.4,221 L587.7,220.1 L588.1,219.4 L588.5,219 L588.9,217.4 L589.2,216.7 L589.5,216.5 L589.8,215.8 L590.1,214.8 L590.4,214.3 L590.7,213.4 L591,212.2 L591.3,212.1 L591.6,210.7 L591.8,210.3 L592.1,210.3 L592.5,209.2 L593,209 L593.6,207.6 L594.2,207.5 L594.8,207.3 L595.3,205.9 L595.9,205.3 L596.5,204.8 L597,204 L597.4,204.6 L597.8,205.1 L598.1,206 L598.4,207.2 L598.8,207.8 L599.1,207.7 L599.5,208.8 L599.8,209.4 L600,210 L600.2,211.5 L600.4,212.3 L600.5,213.1 L600.7,214.2 L600.9,214.4 L601.1,215.1 L601.3,216.5 L601.4,217.1 L601.6,218.1 L601.8,218.2 L602,218.7 L602.3,220.1 L602.7,220.7 L603,221 L603.4,221.7 L603.8,220.8 L604.2,220.3 L604.5,218.9 L604.9,218.2 L605.3,217.2 L605.6,216.4 L606,215.9 L606.4,215.8 L606.9,214.8 L607.5,214.2 L608,213.5 L608.6,213.3 L609.1,213 L609.7,212.5 L610.2,211 L610.8,211.4 L611.4,210.9 L612.1,210 L612.8,209.7 L613.5,210.1 L614.2,208.7 L614.8,208.5 L615.5,208.4 L616.3,207.1 L617.3,207 L618.3,205.6 L619.5,204.9 L620.6,204.5 L621.7,203.6 L622.7,202.8 L623.8,202.5 L625,202.2 L626.4,201.8 L627.9,202 L629.3,201.6 L630.5,201.3 L631.4,200.3 L632,199.6 L632.6,199.4 L633.2,199 L633.8,198 L634.4,197.6 L635.1,197.3 L635.9,196.5 L636.9,195.8 L638.1,195.1 L639.3,194.2 L640.3,193.7 L641.1,193.2 L641.8,192.7 L642.4,192.2 L643,191 L643.7,190.9 L644.3,190.1 L645,189.6 L645.8,189.4 L646.8,188.9 L647.9,187.3 L649.1,186.9 L650.2,185.1 L651.3,185.1 L652.5,184.1 L653.6,183.4 L654.5,182.3 L655.2,181.2 L655.9,179.1 L656.4,178.5 L656.7,177.4" fill="none" stroke="#490000" stroke-width="1.8" stroke-linejoin="round"/>
<path d="M415.5,59 L416,59.3 L416.8,59.7 L417.7,59.9 L418.6,59.6 L419.3,59.8 L420.1,60.5 L420.8,60.7 L421.6,60.8 L422.4,61.6 L423.2,61.5 L424,61.7 L424.8,62.2 L425.6,62.3 L426.4,63.5 L427.3,63.6 L428.1,64.2 L428.9,64.3 L429.6,65.6 L430.5,65.6 L431.4,65.8 L432.5,67 L433.9,67.7 L435.1,67.6 L436.3,68.6 L437.2,68.3 L438.1,68.4 L438.8,69.2 L439.6,69.3 L440.4,68.7 L441.3,69.1 L442.1,69.8 L442.9,69.9 L443.7,70.8 L444.5,70.5 L445.3,70.9 L446.1,71.5 L446.9,71.2 L447.7,71.2 L448.5,70.6 L449.4,71.3 L450.4,71.5 L451.4,71.9 L452.5,72.8 L453.5,73.3 L454.5,73.6 L455.6,74.5 L456.6,74.6 L457.6,74.9 L458.5,75.5 L459.3,75.5 L460.1,76.5 L460.9,76.4 L461.7,77 L462.6,77.6 L463.4,77.8 L464.2,78 L465,78.5 L465.8,78.2 L466.6,78.8 L467.4,79.3 L468.3,79.2 L469.1,79.4 L469.9,80 L470.7,80.3 L471.5,80 L472.3,80.6 L473.1,80.1 L473.9,80.4 L474.6,81.4 L475.4,81.5 L476.1,81.5 L477,81.5 L478,82.2 L479.1,81.7 L480.2,81.7 L481.2,81.1 L482.3,81.3 L483.4,81.1 L484.4,80.4 L485.5,80.8 L486.6,80.5 L487.8,79.3 L488.9,79.1 L490,78.7 L491,78.6 L491.9,77.6 L492.7,77.1 L493.5,77.2 L494.3,76.2 L495,75.6 L495.6,76 L496.3,76 L497,75.5 L497.6,75.8 L498.3,76.5 L499,76.6 L499.7,78.1 L500.4,79.4 L501.1,80.1 L502,81.4 L503,82.2 L504.2,83.1 L505.3,84.5 L506.4,84.4 L507.3,83.9 L508.2,82.6 L509,82.3 L509.7,80.9 L510.2,79.5 L510.5,78.3 L510.8,77.2 L511.1,76.2 L511.4,75.2 L511.8,74.7 L512.1,74.4 L512.4,73.7 L512.7,73.4 L512.9,72.3 L513.2,72 L513.5,72.8 L513.8,72.5 L514.1,73.7 L514.4,74.1 L514.7,74.9 L515,76.1 L515.2,77.3 L515.4,79.4 L515.6,80.3 L515.7,81.7 L515.8,81.8 L515.9,82.2 L516,82.9 L516.1,84.3 L516.2,84.9 L516.3,86.2 L516.4,86.8 L516.5,88.1 L516.6,88.8 L516.7,88.8 L516.8,89.8 L516.9,90.6 L517,92.1 L517.1,93.1 L517.2,93.3 L517.5,94.8 L517.8,96 L518.2,97 L518.5,97.5 L518.7,96.9 L518.9,96 L519.1,95.3 L519.3,94.3 L519.5,93.2 L519.7,92 L519.9,91.4 L520.2,90.8 L520.6,89.6 L521.1,88.8 L521.7,87.9 L522.3,88.2 L523,87.4 L523.8,88.2 L524.6,87.6 L525.4,87.6 L526.2,88.3 L527,87.9 L527.8,88.4 L528.6,88 L529.4,89.7 L530.2,90.9 L530.9,92.2 L531.4,93.2 L531.7,93.9 L531.9,94.7 L532,95 L532.1,96.4 L532.3,97.2 L532.5,98.2 L532.7,98.6 L532.8,99.6 L533,100 L533.1,101.2 L533.3,101.4 L533.6,102.4 L533.9,104.2 L534.2,105.2 L534.7,106.3 L535.4,106.9 L536.5,108 L537.8,108.4 L539.1,108.3 L540.3,109.1 L541.2,109.1 L542.1,109.4 L542.8,109.9 L543.3,110.3 L543.7,111.3 L543.8,112.1 L543.9,113.5 L544,114.3 L544.2,114.7 L544.3,115.7 L544.5,116.3 L544.7,116.7 L544.9,117.2 L545,118 L545.2,118.6 L545.4,119.5 L545.5,120.1 L545.6,121.5 L545.7,122.4 L545.8,123.4 L546,124.5 L546.1,124.9 L546.2,126.8 L546.3,127.3 L546.5,128.6 L546.6,128.8 L546.7,129.4 L546.8,130.2 L546.9,131.1 L547.1,131.7 L547.2,133 L547.3,133.8 L547.4,134.4 L547.5,136 L547.6,137.2 L547.8,138.2 L548,138.3 L548.1,139.3 L548.3,140.3 L548.5,140.7 L548.7,141.3 L548.9,142.1 L549.1,143.1 L549.3,143.6 L549.4,144.4 L549.6,145.1 L549.7,146.5 L550,146.7 L550.4,147.5 L550.8,148.1 L551.3,149.1 L551.8,149.9 L552.4,150.2 L553.2,149.6 L553.9,149.7 L554.5,150.1 L554.9,150 L555.2,150.8 L555.4,151.4 L555.7,152.7 L556,153.2 L556.3,154 L556.6,154.6 L556.9,155.3 L557.1,156.5 L557.2,157.2 L557.3,158.2 L557.4,159.5 L557.6,159.7 L557.7,161.2 L557.9,162.6 L558,163.4 L558.2,163.6 L558.3,165.4 L558.4,165.8 L558.6,166.5 L558.7,167.9 L558.8,168.4 L558.9,169.4 L558.9,169.7 L559,170.2 L559.1,171.1 L559.2,172.2 L559.3,172.5 L559.4,173.5 L559.5,173.8 L559.6,175 L559.7,176.2 L559.8,177 L559.9,177.5 L560,178.2 L560,179.1 L560.1,180.1 L560.2,180.6 L560.3,181.2 L560.4,182.3 L560.5,182.2 L560.6,183.8 L560.7,184.4 L560.8,184.5 L560.9,185.7 L561,186.3 L561.1,187.6 L561.3,188.5 L561.4,189.1 L561.5,189.7 L561.6,190.6 L561.7,191.6 L561.8,192.4 L561.9,193 L562.1,193.7 L562.2,194.3 L562.3,195.5 L562.4,195.9 L562.5,196.8 L562.6,197.6 L562.8,198.6 L562.9,199 L563,200 L563.1,200.8 L563.2,201.7 L563.3,202.5 L563.5,203.3 L563.6,204.2 L563.7,205.6 L563.8,206.1 L563.9,207.2 L564,207.9 L564.2,208.3 L564.5,209.3 L564.7,210 L564.9,211.1 L565.1,211.9 L565.3,213.4 L565.5,214.1 L565.8,214.6 L566.2,215.6 L566.7,216.3 L567.2,217.6 L567.6,217.2 L567.9,217.7 L568.2,217 L568.4,216.2 L568.6,214.7 L568.9,214.5 L569.1,214 L569.4,213.7 L569.6,212.1 L569.9,211.7 L570.2,210.1 L570.5,209 L570.7,208.7 L571,207.9 L571.3,206.3 L571.5,206.3 L571.9,205 L572.3,203.3 L572.7,201.8 L573.2,201.5 L573.7,200.3 L574.1,200.8 L574.5,200.4 L574.9,201.2 L575.3,201.4 L575.6,202.6 L576,203.8 L576.3,205 L576.7,205.1 L577,205.6 L577.3,206.3 L577.5,206.5 L577.9,206 L578.2,205.5 L578.6,204.8 L578.9,203.3 L579.3,202.6 L579.6,202.5 L579.9,202.4 L580.1,202.2 L580.5,202.2 L580.8,203.4 L581.2,203.6 L581.6,205 L581.9,206 L582.2,206.8 L582.4,206.9 L582.6,208.6 L582.9,209.4 L583.1,209.9 L583.2,210.3 L583.5,211.8 L583.8,212.4 L584.2,213.7 L584.8,215.3 L585.3,216.7 L585.8,217.2 L586.3,217.6 L586.6,217.4 L587,216.3 L587.4,215.3 L587.7,214.1 L588.1,213.5 L588.5,213 L588.9,211.4 L589.3,210.9 L589.8,210 L590.2,208.3 L590.7,207.3 L591.1,206.2 L591.6,205.1 L592,204.4 L592.5,203.9 L593,203.2 L593.6,202.4 L594.2,202.2 L594.8,201.2 L595.3,200.2 L595.9,199.1 L596.5,199.2 L597,199 L597.4,198.8 L597.8,199.2 L598.1,200.5 L598.4,201.9 L598.8,201.9 L599.1,202.6 L599.5,203.4 L599.8,203.8 L600,204.2 L600.2,205.2 L600.4,206.3 L600.5,206.5 L600.7,207.5 L600.9,208.8 L601.1,209 L601.3,210.1 L601.4,210.9 L601.6,211.2 L601.8,211.8 L602,212.5 L602.3,213.7 L602.7,214.8 L603.1,215.5 L603.5,215.7 L603.8,215.2 L604.2,214.8 L604.6,214.1 L604.9,213 L605.3,212 L605.6,211 L606,210.8 L606.4,209.5 L606.9,209.7 L607.5,209.1 L608,208.3 L608.6,207.9 L609.1,207.8 L609.7,207.6 L610.2,206.7 L610.8,206 L611.4,205.6 L612.1,205.4 L612.8,204.6 L613.5,204.2 L614.2,203.7 L614.8,203.4 L615.5,202.7 L616.3,202.2 L617.3,201.3 L618.3,200.4 L619.5,199.5 L620.6,198.5 L621.7,198 L622.7,197.9 L623.8,197 L625,197.6 L626.4,197.5 L627.9,197 L629.3,196.6 L630.5,196.1 L631.4,195.8 L632,194.7 L632.6,194.9 L633.2,194.5 L633.8,193.9 L634.4,192.9 L635.1,192.1 L635.9,191.4 L636.9,190.7 L638.1,190.4 L639.3,189.6 L640.3,188.9 L641.1,187.3 L641.8,187.1 L642.4,186.3 L643,185.8 L643.7,185.2 L644.3,185 L645,184.2 L645.8,183.7 L646.8,183 L647.9,183 L649.1,182.1 L650.2,181 L651.3,180.2 L652.5,179.9 L653.6,178.6 L654.5,177.6 L655.2,176.3 L655.9,174.2 L656.4,172.7 L656.7,171.7" fill="none" stroke="#6d0000" stroke-width="1.8" stroke-linejoin="round"/>
<path d="M415.5,54.1 L416,54.3 L416.8,54.2 L417.7,54.4 L418.6,55.2 L419.3,54.5 L420.1,55.5 L420.8,55.8 L421.6,55.5 L422.4,56 L423.2,57.1 L424,58.1 L424.8,58.1 L425.6,58.8 L426.4,59.1 L427.3,59.5 L428.1,59.5 L428.9,59.5 L429.6,60.3 L430.5,60.5 L431.4,60.9 L432.5,61.8 L433.9,62.1 L435.1,63 L436.3,63.6 L437.2,64.1 L438.1,63.5 L438.8,64.3 L439.6,64.6 L440.4,64.1 L441.3,64.6 L442.1,65.3 L442.9,65.6 L443.7,66.3 L444.5,65.7 L445.3,65.8 L446.1,66.8 L446.9,66.7 L447.7,66.6 L448.5,66.4 L449.4,66.8 L450.4,67.3 L451.4,67.4 L452.5,67.4 L453.5,67.4 L454.5,68 L455.6,68.6 L456.6,69.4 L457.6,70 L458.5,70.2 L459.3,70.7 L460.1,71.2 L460.9,71.3 L461.7,71.5 L462.6,72.8 L463.4,72.9 L464.2,73.7 L465,73.7 L465.8,73.6 L466.6,73.5 L467.4,73.3 L468.3,74.1 L469.1,73.8 L469.9,74.6 L470.7,74.5 L471.5,74.7 L472.3,75.4 L473.1,75.9 L473.9,75.7 L474.6,75.7 L475.4,75.9 L476.1,76.6 L477,76.7 L478,76.7 L479.1,76.9 L480.2,76.2 L481.2,76.7 L482.3,76 L483.4,75.9 L484.4,75.1 L485.5,75.4 L486.6,75.4 L487.8,74.5 L488.9,73.9 L490,74 L491,73.8 L491.9,72.8 L492.7,72.2 L493.5,71.7 L494.3,71.8 L495,71.6 L495.6,71.2 L496.3,71.6 L497,71.3 L497.6,71.9 L498.3,72 L499,72 L499.7,73.6 L500.4,74 L501.1,75.9 L502,76.7 L503,77.4 L504.1,78.7 L505.3,79.7 L506.3,80 L507.3,79.3 L508.2,78.1 L509,76.9 L509.6,76.2 L510.1,74.4 L510.5,72.8 L510.8,71.2 L511.1,70.8 L511.4,69 L511.7,68.5 L512,67.9 L512.3,68.2 L512.6,67.4 L512.9,67.1 L513.2,67.9 L513.5,67.2 L513.8,67.9 L514.1,68.3 L514.4,69.8 L514.7,70.3 L515,71 L515.2,72 L515.4,73.4 L515.6,75 L515.7,75.6 L515.8,76.7 L515.9,77.3 L516,78.1 L516.1,78.8 L516.2,79.5 L516.3,80.3 L516.4,80.9 L516.5,81.9 L516.6,83.2 L516.7,83.5 L516.8,84.3 L516.9,85.6 L517,86.4 L517.1,86.5 L517.2,88.1 L517.5,89.4 L517.8,91.6 L518.1,92.2 L518.4,93.1 L518.7,93.4 L518.9,92.1 L519.1,90.9 L519.3,89.1 L519.5,88.7 L519.6,87.1 L519.8,86.6 L520.1,84.8 L520.5,84.5 L521,83.6 L521.6,83.1 L522.2,83.1 L522.9,82.1 L523.7,82.8 L524.6,83 L525.4,83.2 L526.2,83.1 L527,82.3 L527.8,82 L528.6,82.3 L529.4,83.6 L530.2,84.7 L530.9,86 L531.4,87.1 L531.8,88 L531.9,89.3 L532,89.9 L532.1,90.6 L532.3,91.5 L532.5,92 L532.7,93.9 L532.8,93.8 L533,94.8 L533.1,95.7 L533.3,96.7 L533.5,97.9 L533.9,98.2 L534.2,99.7 L534.7,100.9 L535.5,101.4 L536.5,103 L537.8,103.1 L539.1,104.4 L540.3,104.9 L541.2,105.1 L542,104.8 L542.7,104.7 L543.3,105 L543.6,105.7 L543.8,107.5 L543.8,108.4 L544,109.3 L544.1,109.6 L544.3,110.2 L544.5,111.7 L544.6,112.1 L544.8,112.7 L545,113.4 L545.1,113.4 L545.3,114.4 L545.4,115 L545.5,116.3 L545.7,117.1 L545.8,118.2 L545.9,119.5 L546,120 L546.1,120.8 L546.3,122.5 L546.4,123.2 L546.5,123.8 L546.6,124.4 L546.7,125.7 L546.9,125.8 L547,127.1 L547.1,127.4 L547.2,128.8 L547.3,129.1 L547.5,130.3 L547.6,131.4 L547.7,132.5 L547.9,133.3 L548.1,133.9 L548.3,134.2 L548.4,135.5 L548.6,136.2 L548.8,136.8 L549,136.8 L549.2,138.1 L549.3,138.5 L549.5,139.2 L549.6,141.1 L549.9,141.8 L550.3,142.2 L550.7,143.7 L551.2,144.2 L551.7,144.2 L552.3,145.2 L553,144.7 L553.8,144.7 L554.4,144 L555.1,145.3 L555.8,146.6 L556.4,148.5 L556.9,150 L557.1,150.4 L557.3,151.3 L557.3,151.8 L557.4,153.3 L557.5,154.1 L557.7,154.6 L557.8,156 L557.9,156.5 L558.1,157.2 L558.2,157.9 L558.4,159.2 L558.5,159.8 L558.6,160.8 L558.7,161.1 L558.8,161.9 L558.9,163.1 L558.9,164.1 L559,164.5 L559.1,165.1 L559.2,165.6 L559.3,167.1 L559.4,167.5 L559.5,168.2 L559.6,169.7 L559.7,170.2 L559.8,171.7 L559.9,172.5 L560,172.6 L560.1,173.3 L560.2,174.1 L560.2,175.3 L560.3,175.8 L560.4,176.6 L560.5,176.9 L560.6,177.8 L560.7,178.7 L560.8,180.2 L560.9,180.4 L561.1,181.7 L561.2,182.3 L561.3,183.2 L561.4,183.9 L561.5,184.4 L561.7,185 L561.8,185.8 L561.9,186.4 L562,188 L562.1,188.2 L562.2,189.7 L562.4,190.2 L562.5,191.6 L562.6,191.8 L562.7,192.3 L562.8,193.7 L562.9,194.6 L563.1,195.7 L563.2,195.6 L563.3,197 L563.4,197.8 L563.5,198.3 L563.6,199.4 L563.7,200 L563.9,201.2 L564,201.9 L564.2,202.8 L564.4,203.4 L564.7,203.8 L564.9,205 L565.1,206.4 L565.3,207.1 L565.5,207.9 L565.8,208.9 L566.2,209.9 L566.8,210.9 L567.3,211.7 L567.7,211.8 L568,211.9 L568.3,211 L568.5,209.8 L568.7,209.5 L569,208 L569.2,208.2 L569.5,207.7 L569.7,206.9 L570,205.6 L570.3,205 L570.5,204.1 L570.8,202.6 L571.1,201.8 L571.3,201.2 L571.6,200.2 L571.9,199.3 L572.3,197.9 L572.7,196.9 L573.2,195.8 L573.6,195.9 L574.1,194.9 L574.5,195.2 L574.9,195.4 L575.2,195.7 L575.6,196.5 L576,198.1 L576.3,199.5 L576.6,201.1 L577,200.5 L577.2,201.1 L577.5,201.2 L577.8,200.6 L578.2,199.7 L578.5,198.6 L578.9,197.5 L579.2,196.7 L579.6,197 L579.8,196.5 L580.1,197.4 L580.4,197.2 L580.8,197.5 L581.2,197.9 L581.6,198.7 L581.9,199.8 L582.2,200.9 L582.4,201.7 L582.6,202.4 L582.8,204 L583,204.3 L583.2,205.2 L583.5,206.6 L583.8,207.4 L584.2,208.7 L584.7,210.5 L585.3,211.3 L585.8,213 L586.2,212.6 L586.6,211.7 L587,210.3 L587.4,209.3 L587.8,208.3 L588.2,208.3 L588.5,206.7 L589,205.9 L589.4,205.4 L589.8,204.3 L590.3,203.3 L590.7,202.5 L591.2,201.1 L591.6,200 L592,199.4 L592.5,198.8 L593,197.9 L593.6,197.6 L594.2,196.3 L594.8,195.7 L595.3,194.3 L595.8,193.6 L596.4,193 L597,193 L597.7,194.3 L598.5,195.8 L599.2,197.7 L599.8,198.7 L600.1,199.5 L600.3,200.1 L600.4,201.3 L600.5,201.7 L600.7,202.3 L600.9,202.6 L601.1,203.2 L601.3,204.1 L601.4,205.3 L601.6,206.1 L601.8,206.7 L602,207.3 L602.3,208.7 L602.7,209.1 L603.1,209.9 L603.5,209.5 L603.9,210 L604.2,208.6 L604.6,208 L604.9,207.5 L605.3,206.4 L605.6,206.3 L606,205.4 L606.4,204.6 L606.9,203.9 L607.5,203.9 L608,203.2 L608.6,202.7 L609.1,202.6 L609.7,201.9 L610.2,201.4 L610.8,201.1 L611.4,199.6 L612.1,199.1 L612.8,199.2 L613.5,198 L614.2,198 L614.8,197.6 L615.5,197.6 L616.3,196.3 L617.3,196.1 L618.3,194.7 L619.5,194.3 L620.6,193.3 L621.7,192.9 L622.7,192.8 L623.8,192.6 L625,192.4 L626.4,191.7 L627.9,191.8 L629.3,191.1 L630.5,191.1 L631.4,190.3 L632,189.5 L632.6,188.8 L633.2,188.8 L633.8,188.9 L634.4,187.8 L635.1,187.6 L635.9,187.1 L636.9,187 L638.1,185.7 L639.3,183.8 L640.3,182.6 L641.1,181.9 L641.8,181.4 L642.4,180.9 L643,180.6 L643.7,180.4 L644.3,179.9 L645,179.9 L645.8,178.9 L646.8,178.4 L647.9,177.7 L649.1,177.4 L650.2,176.3 L651.3,175.7 L652.5,174 L653.6,172.9 L654.5,172.3 L655.2,170.2 L655.9,168.8 L656.4,168.2 L656.7,166.9" fill="none" stroke="#920000" stroke-width="1.8" stroke-linejoin="round"/>
<path d="M415.5,48.9 L416,48.8 L416.8,49.4 L417.7,50.2 L418.6,50.4 L419.3,50 L420.1,50.7 L420.8,50.8 L421.6,50.2 L422.4,51.4 L423.2,51.9 L424,52.4 L424.8,53.3 L425.6,54.1 L426.4,54 L427.3,54.5 L428.1,55.2 L428.9,55.1 L429.6,56.1 L430.5,56.2 L431.4,56.6 L432.5,56.5 L433.9,57.1 L435.1,58.3 L436.3,58.3 L437.2,59 L438.1,59.7 L438.8,59.6 L439.6,59.7 L440.4,59.6 L441.3,59.8 L442.1,60.1 L442.9,60.9 L443.7,60.9 L444.5,60.5 L445.3,60.6 L446.1,61.7 L446.9,61.8 L447.7,61.4 L448.5,61.2 L449.4,61.6 L450.4,62.3 L451.4,62.1 L452.5,63.1 L453.5,63.3 L454.5,63.9 L455.6,64.9 L456.6,64.5 L457.6,65.3 L458.5,65.5 L459.3,65.9 L460.1,67 L460.9,66.4 L461.7,67.7 L462.6,67.4 L463.4,67.9 L464.2,68.1 L465,67.9 L465.8,68.3 L466.6,68.4 L467.4,68.8 L468.3,68.7 L469.1,69.4 L469.9,69.3 L470.7,70 L471.5,70.3 L472.3,71 L473.1,71.5 L473.9,71.2 L474.6,71.8 L475.4,72.2 L476.1,71.9 L477,72.3 L478,72.4 L479.1,72.3 L480.2,72 L481.2,71.5 L482.3,71.3 L483.4,71 L484.4,71.1 L485.5,71.2 L486.6,69.9 L487.8,70.2 L488.9,69.8 L490,69.1 L491,68 L491.9,67.6 L492.7,67.5 L493.5,66.9 L494.3,66.5 L495,66.6 L495.6,66.5 L496.3,65.6 L497,66.1 L497.6,66.5 L498.3,66.9 L499,67.1 L499.7,67.6 L500.4,69.3 L501.2,70.6 L502,71.5 L503,72.2 L504.1,73.6 L505.3,74.5 L506.3,75.1 L507.2,74.9 L508.1,73.1 L508.9,71.9 L509.6,70.4 L510.1,69 L510.5,67.6 L510.7,66.5 L511.1,65.6 L511.4,64.8 L511.7,64.1 L512,63.5 L512.3,62.6 L512.6,62.5 L512.9,61.8 L513.2,62.1 L513.5,62.5 L513.8,62.3 L514.1,62.8 L514.4,63.6 L514.7,64.8 L515,65.9 L515.2,67 L515.4,68.1 L515.6,69.5 L515.7,70.2 L515.8,71.7 L515.9,72.7 L516,72.8 L516.1,73.8 L516.2,75.1 L516.3,75.2 L516.4,76.6 L516.5,77.4 L516.6,78.1 L516.7,78.9 L516.8,79.5 L516.9,80.3 L517,81.5 L517.1,82.1 L517.2,83.1 L517.5,84.9 L517.8,85.8 L518.1,86.9 L518.4,88.1 L518.6,87.4 L518.8,86 L519,84.7 L519.2,83 L519.4,82.9 L519.6,81.4 L519.8,80.3 L520.1,79.4 L520.5,79.3 L521,78.5 L521.5,78 L522.1,77.6 L522.9,78 L523.7,77.9 L524.5,77.4 L525.3,77.1 L526.1,77.9 L527,77.1 L527.8,77.7 L528.5,77.2 L529.3,78.8 L530.2,79.6 L530.9,81.3 L531.5,81.8 L531.8,83.2 L531.9,84.5 L532,84.7 L532.1,85.4 L532.3,87.1 L532.5,87.9 L532.7,88.1 L532.8,89.3 L533,90 L533.1,91 L533.3,92.3 L533.5,92.9 L533.9,93.9 L534.2,95.2 L534.8,96.6 L535.5,96.9 L536.5,97.8 L537.8,98.3 L539.1,98.6 L540.3,98.8 L541.2,99.8 L542,99.7 L542.7,100 L543.3,101.6 L543.6,102.4 L543.9,103.1 L544,104.3 L544.2,104.9 L544.5,106 L544.8,107 L545,108.2 L545.2,109.2 L545.4,110.2 L545.5,111 L545.6,112 L545.7,112.6 L545.8,113.4 L546,114.8 L546.1,115.4 L546.2,116.6 L546.3,117.1 L546.4,117.4 L546.6,118.6 L546.7,119.5 L546.8,120.5 L546.9,121.5 L547,122.7 L547.2,122.9 L547.3,124 L547.4,124.6 L547.5,125.2 L547.6,126.7 L547.8,126.9 L548,127.9 L548.2,129 L548.4,129.7 L548.5,130.3 L548.7,131.1 L548.9,132.4 L549.1,132.9 L549.2,134.1 L549.4,134.2 L549.5,135.1 L549.8,136 L550.2,137 L550.6,138.5 L551.1,139.5 L551.6,139.9 L552.3,139.8 L553,139.8 L553.7,139 L554.4,139.9 L555.1,139.8 L555.8,141.3 L556.4,142.8 L556.8,143.3 L557.1,144.4 L557.2,145.6 L557.3,146.8 L557.4,147.9 L557.5,148.7 L557.6,149.6 L557.7,150.2 L557.9,150.8 L558,151 L558.1,152.4 L558.3,152.5 L558.4,153.4 L558.5,153.8 L558.6,155 L558.7,155.6 L558.8,156.5 L558.9,157.6 L559,158.1 L559,159.2 L559.1,160.1 L559.2,160.9 L559.3,161.4 L559.4,162.5 L559.5,163.9 L559.6,164.2 L559.7,164.8 L559.8,165.8 L559.9,166.1 L560,167 L560.1,167.8 L560.2,168.6 L560.3,168.7 L560.4,170.3 L560.4,170.8 L560.5,171.9 L560.6,172.3 L560.8,173.8 L560.9,174.3 L561,175.3 L561.1,176.6 L561.2,177.1 L561.4,178.1 L561.5,178.5 L561.6,179.2 L561.7,179.6 L561.8,180.4 L562,181.4 L562.1,182.9 L562.2,183.6 L562.3,184.3 L562.4,185 L562.5,186.2 L562.7,186.8 L562.8,187 L562.9,188.5 L563,188.6 L563.1,189.8 L563.3,190.5 L563.4,191 L563.5,191.9 L563.6,193.3 L563.7,194.2 L563.8,194.4 L564,195.2 L564.2,195.9 L564.4,197.4 L564.7,198.6 L564.9,199.9 L565.1,200 L565.3,201.6 L565.5,202 L565.8,203.4 L566.3,203.7 L566.8,205.4 L567.4,205.4 L567.8,206.5 L568.1,206.2 L568.4,205.2 L568.6,204.4 L568.8,203.5 L569.1,202.7 L569.3,202.3 L569.6,201 L569.8,200.2 L570.1,199.5 L570.3,198.7 L570.6,197.4 L570.9,196.8 L571.1,196 L571.4,194.2 L571.6,193.5 L571.9,192.5 L572.3,191.4 L572.7,190.8 L573.2,190.2 L573.6,188.9 L574,188.9 L574.4,189.2 L574.8,189 L575.2,189.8 L575.6,191.1 L576,192.4 L576.3,194.1 L576.6,194.5 L576.9,195 L577.2,195.6 L577.5,194.8 L577.8,194.8 L578.2,194.1 L578.5,193.4 L578.9,192.1 L579.2,191.4 L579.5,190.5 L579.8,190.7 L580.1,190.4 L580.4,190.6 L580.8,192 L581.2,192 L581.5,193.4 L581.9,193.7 L582.1,195.3 L582.4,196.3 L582.6,197.3 L582.8,198.1 L583,198.3 L583.2,199.3 L583.4,199.9 L583.7,200.8 L584.2,202.2 L584.7,204 L585.3,205.5 L585.8,207 L586.2,206.9 L586.6,205.4 L587,205 L587.4,204 L587.8,203.4 L588.2,202.3 L588.6,201.6 L589,200.9 L589.4,199.7 L589.9,198.5 L590.3,197.9 L590.8,197.3 L591.2,196.2 L591.6,194.6 L592,194.1 L592.5,194 L593,192.9 L593.6,192.5 L594.2,191.6 L594.8,191.1 L595.3,190.2 L595.8,189.3 L596.4,188.1 L597,187.4 L597.7,188.8 L598.5,189.5 L599.2,191 L599.8,192.8 L600.1,193.1 L600.3,194.4 L600.4,194.7 L600.5,196 L600.7,196.3 L600.9,197.3 L601.1,198.7 L601.3,199.3 L601.4,200.4 L601.6,201 L601.8,202.1 L602,202.6 L602.3,202.8 L602.7,204.2 L603.1,204.4 L603.5,205.2 L603.9,204.4 L604.3,204.1 L604.6,203.4 L605,202.7 L605.3,201.7 L605.5,201 L605.8,200.5 L606.4,199.1 L607.3,198.7 L608.5,197.5 L609.7,196.1 L610.8,195.2 L611.6,194.5 L612.3,193.5 L612.9,192.7 L613.5,192.8 L614.2,192.4 L614.8,192.7 L615.5,191.9 L616.3,191.7 L617.3,190.5 L618.3,189.3 L619.5,188.6 L620.6,187.4 L621.7,187.1 L622.7,186.8 L623.8,187.2 L625,186.8 L626.4,186.6 L627.9,186.9 L629.3,185.9 L630.5,186.3 L631.4,185.9 L632,185.4 L632.6,184.6 L633.2,184.5 L633.8,183.9 L634.4,183.7 L635.1,183.2 L635.9,182.2 L636.9,181.8 L638.1,180.9 L639.3,179.3 L640.3,178.3 L641.1,177.8 L641.8,177.1 L642.4,176.3 L643,176.5 L643.7,175.8 L644.3,174.7 L645,174.6 L645.8,173.5 L646.8,173 L647.9,173 L649.1,171.9 L650.2,171.1 L651.3,170.4 L652.5,168.9 L653.6,167.7 L654.5,166.5 L655.2,165.3 L655.9,164 L656.4,162.5 L656.7,162.2" fill="none" stroke="#b60000" stroke-width="1.8" stroke-linejoin="round"/>
<path d="M415.5,44.7 L416,44.8 L416.8,44.5 L417.7,45.2 L418.6,44.9 L419.3,45.2 L420.1,46 L420.8,46.1 L421.6,47.2 L422.4,47.2 L423.2,47.8 L424,48 L424.8,49.3 L425.6,49.1 L426.4,49.6 L427.3,50.1 L428.1,50.2 L428.9,51.1 L429.6,51 L430.5,51.5 L431.4,51.7 L432.5,52 L433.9,52.4 L435.1,53.2 L436.3,53 L437.2,53.7 L438.1,53.7 L438.8,54.6 L439.6,54.2 L440.4,55.2 L441.3,55.7 L442.1,56.1 L442.9,55.9 L443.7,56.4 L444.5,56 L445.3,56.9 L446.1,57 L447,56.7 L447.8,56.8 L448.6,56.3 L449.4,56.7 L450.1,56.5 L450.8,56.8 L451.5,57.5 L452.1,58.6 L452.8,58.8 L453.5,58.3 L454.2,58.7 L454.9,59 L455.5,58.7 L456.2,59 L456.9,60.1 L457.6,59.8 L458.4,60.7 L459.2,60.4 L460.1,61.5 L460.9,61 L461.7,61.8 L462.6,62.6 L463.4,62.8 L464.2,64 L465,64.4 L465.8,64 L466.6,64.3 L467.4,64 L468.3,64.3 L469.1,64.9 L469.9,65.1 L470.7,64.9 L471.5,66 L472.3,66.2 L473.1,66 L473.9,66.5 L474.6,66.2 L475.4,66.7 L476.1,67.3 L477,66.9 L478,66.8 L479.1,67 L480.2,66.4 L481.2,66.7 L482.3,66.4 L483.4,65.9 L484.4,65.8 L485.5,65.8 L486.6,64.9 L487.8,65.2 L488.9,64.9 L490,63.9 L491,63.2 L491.9,63.2 L492.7,62.4 L493.5,62 L494.3,61.8 L495,61.2 L495.6,61.2 L496.3,60.5 L497,60.9 L497.6,61.9 L498.3,62.4 L499,63 L499.7,63.6 L500.4,64.4 L501.2,66 L502,66.2 L503,68.1 L504.1,69.2 L505.2,70.3 L506.2,69.7 L507.2,69.7 L508.1,68.8 L508.9,67.1 L509.6,66.3 L510.1,64.7 L510.4,63.4 L510.7,61.2 L511,60.9 L511.4,59.2 L511.7,58.6 L512,58 L512.3,57.9 L512.6,56.9 L512.9,57 L513.2,57.3 L513.5,57.1 L513.8,57.1 L514.1,57.8 L514.4,58 L514.7,58.7 L515,60.3 L515.2,61.5 L515.4,63.3 L515.6,64 L515.7,64.9 L515.8,66.1 L515.9,66.8 L516,66.8 L516.1,68.4 L516.2,69.4 L516.3,70.3 L516.4,71.1 L516.5,71.6 L516.6,72.7 L516.7,73.3 L516.8,75 L516.9,75.8 L517,75.7 L517.1,77.3 L517.2,77.6 L517.4,79.6 L517.7,80.8 L518.1,81.7 L518.3,82.5 L518.6,82.3 L518.8,81.3 L519,80.1 L519.2,79.2 L519.4,77.2 L519.5,76 L519.7,75.3 L520,74 L520.4,73.2 L520.9,72.4 L521.5,73 L522.1,72.3 L522.8,72.3 L523.6,71.9 L524.5,71.8 L525.3,72.6 L526.1,71.7 L526.9,72.1 L527.7,71.3 L528.5,72.3 L529.3,73.1 L530.2,74.2 L530.9,75.3 L531.5,76.3 L531.8,77 L532,78.3 L532,79.5 L532.2,79.9 L532.3,80.9 L532.5,81.4 L532.7,82.6 L532.8,83.8 L533,84.8 L533.1,85.4 L533.3,86.6 L533.5,87.7 L533.8,88.8 L534.2,89.8 L534.8,90.8 L535.5,92.5 L536.5,92.4 L537.8,93.2 L539.2,93.1 L540.3,93.7 L541.2,93.8 L542,94.1 L542.7,95.2 L543.2,96 L543.6,96.9 L543.8,97.5 L544,99 L544.2,99.7 L544.4,100.2 L544.7,101.5 L545,102.4 L545.2,103.4 L545.3,104.4 L545.4,105.8 L545.5,106.2 L545.6,107.2 L545.8,107.9 L545.9,108.7 L546,109.4 L546.1,110.7 L546.2,111.6 L546.4,112.7 L546.5,112.9 L546.6,114 L546.7,115 L546.8,115.9 L547,116.3 L547.1,117.2 L547.2,118.7 L547.3,119.2 L547.4,119.7 L547.6,120.6 L547.7,121.3 L547.9,122.3 L548.1,122.5 L548.3,123.1 L548.5,124 L548.6,124.9 L548.8,126.3 L549,126.7 L549.1,128.2 L549.3,128.2 L549.4,129 L549.7,130.3 L550.1,130.9 L550.5,132.6 L551,133.6 L551.6,134.2 L552.2,134 L553,134.6 L553.7,134.7 L554.4,134.5 L555.1,135.2 L555.8,136.4 L556.4,137.6 L556.8,138.6 L557.1,138.7 L557.2,139.6 L557.2,140.2 L557.3,140.8 L557.4,141.4 L557.6,142.1 L557.7,142.6 L557.8,143.7 L557.9,144.8 L558.1,145.6 L558.2,145.9 L558.3,147.2 L558.4,147.9 L558.5,149.3 L558.6,149.4 L558.7,150.2 L558.8,151.3 L558.9,151.7 L559,153.4 L559.1,153.4 L559.1,154.7 L559.2,155.7 L559.3,156.2 L559.4,157.1 L559.5,157.8 L559.6,158.6 L559.7,158.8 L559.8,159.2 L559.9,160.1 L560,161.1 L560.1,161.7 L560.2,162.9 L560.3,163.7 L560.4,165.1 L560.5,165.5 L560.6,166.3 L560.7,167.3 L560.8,168.3 L560.9,169 L561.1,169.9 L561.2,170.6 L561.3,171.3 L561.4,172.2 L561.5,173 L561.7,174.3 L561.8,175.1 L561.9,175.7 L562,176.5 L562.1,177.4 L562.3,178 L562.4,178.8 L562.5,180.2 L562.6,181.1 L562.7,180.8 L562.9,181.5 L563,182.6 L563.1,184 L563.2,184.6 L563.3,185.6 L563.5,186.4 L563.6,187.8 L563.7,188 L563.8,189.2 L563.9,189.9 L564.1,190.7 L564.4,191.7 L564.7,192.9 L564.9,193.5 L565.1,194.2 L565.3,194.9 L565.6,196 L565.9,197.3 L566.3,198.3 L566.9,199.8 L567.4,200.1 L567.9,200.8 L568.2,200.3 L568.5,200.4 L568.7,198.6 L568.9,198.3 L569.2,197.4 L569.4,196.2 L569.7,195.8 L569.9,195.2 L570.2,194.1 L570.4,192.4 L570.7,191.7 L570.9,190.7 L571.2,189.3 L571.4,188.3 L571.7,187.7 L572,186.8 L572.3,186.2 L572.8,184.8 L573.2,184.1 L573.6,184 L574,183.5 L574.4,183.6 L574.8,183.5 L575.2,183.8 L575.6,185.4 L575.9,186.7 L576.3,188.1 L576.6,189.1 L576.9,189.8 L577.2,189.9 L577.5,189.2 L577.8,188.9 L578.2,188.8 L578.5,187.4 L578.9,186.6 L579.2,185.5 L579.5,184.8 L579.8,185.2 L580.1,185 L580.4,185.3 L580.8,186.3 L581.1,187.2 L581.5,188.1 L581.8,188.8 L582.1,190.3 L582.3,191.2 L582.5,191.8 L582.8,192.1 L583,192.5 L583.2,193.3 L583.5,193.7 L583.7,195.3 L584,195.4 L584.2,196.3 L584.5,196.6 L584.7,197.8 L585,198.8 L585.2,199.5 L585.4,201.1 L585.7,200.7 L586.1,201.1 L586.5,200.3 L587,199 L587.4,198.4 L587.8,197.5 L588.2,196.4 L588.6,195 L589.1,194.8 L589.5,194 L589.9,192.6 L590.3,191.9 L590.8,191 L591.2,190.4 L591.6,190.2 L592,188.7 L592.5,187.6 L593,187.1 L593.6,186.3 L594.2,186.1 L594.8,185.1 L595.3,184 L595.8,183.4 L596.4,183.5 L597,183 L597.7,183.3 L598.5,184.9 L599.2,186.1 L599.8,187.2 L600.1,188.6 L600.3,189.2 L600.4,189.3 L600.5,190 L600.7,190.8 L600.9,191.3 L601.1,192.5 L601.3,193.5 L601.4,194 L601.6,194.9 L601.8,196.2 L602,197.1 L602.3,198.3 L602.7,198.2 L603.2,199.2 L603.6,199.2 L603.9,198.4 L604.3,198.3 L604.6,196.9 L605,196.7 L605.3,195.3 L605.5,195.2 L605.8,194 L606.4,193.2 L607.3,192.9 L608.5,191.6 L609.7,190.8 L610.8,190.1 L611.6,189.4 L612.3,188.8 L612.9,188.3 L613.5,187.5 L614.2,187.5 L614.8,187.4 L615.5,186.5 L616.3,186.1 L617.3,185.9 L618.3,184.5 L619.5,183.6 L620.6,182.6 L621.7,182.6 L622.7,182.1 L623.8,181.2 L625,181.9 L626.4,180.7 L627.9,180.8 L629.3,180.2 L630.5,180.3 L631.4,180 L632,179.2 L632.6,179 L633.2,178 L633.8,178.2 L634.4,177.3 L635.1,177.3 L635.9,176.7 L636.9,175.5 L638.1,174.9 L639.3,173.8 L640.3,173.3 L641.1,172.3 L641.8,171.5 L642.4,171.6 L643,170.4 L643.7,169.7 L644.3,169.4 L645,169.5 L645.8,169.1 L646.8,167.6 L647.9,167.1 L649.1,166.7 L650.2,165.7 L651.3,165 L652.5,163.9 L653.6,162.2 L654.5,161 L655.2,159.9 L655.9,159 L656.4,158.1 L656.7,156.9" fill="none" stroke="#db0000" stroke-width="1.8" stroke-linejoin="round"/>
<path d="M415.5,39.7 L416,40.1 L416.8,40 L417.7,40 L418.6,40.9 L419.3,40.7 L420.1,41.4 L420.8,41.2 L421.6,41.8 L422.4,42.6 L423.2,42.4 L424,43.4 L424.8,44 L425.6,44.4 L426.4,45.4 L427.3,45 L428.1,45.7 L428.9,45.9 L429.6,46.1 L430.5,46.4 L431.4,47.5 L432.5,47.5 L433.9,48.6 L435.1,48.6 L436.3,49 L437.2,49.2 L438.1,49.3 L438.8,49.4 L439.6,50.4 L440.4,50.7 L441.3,51 L442.1,50.9 L442.9,51.3 L443.7,51.1 L444.5,51.2 L445.3,51.8 L446.1,51.5 L447,51 L447.8,51.2 L448.6,51.4 L449.4,51.4 L450.1,51.6 L450.8,52.4 L451.5,52.5 L452.1,53.5 L452.8,53.8 L453.5,53.6 L454.2,54.8 L454.9,54.9 L455.5,55.1 L456.2,54.7 L456.9,55.3 L457.6,55.1 L458.4,55.1 L459.2,56.3 L460.1,56.6 L460.9,56.6 L461.7,57.3 L462.6,57.6 L463.4,58.8 L464.2,58.7 L465,59.4 L465.8,59.1 L466.6,59.2 L467.4,59 L468.3,59 L469.1,59.2 L469.9,59.6 L470.7,60.1 L471.5,60 L472.3,60.6 L473.1,60.6 L473.9,60.9 L474.6,61.3 L475.4,61.5 L476.1,61.9 L477,62.2 L478,62.2 L479.1,61.6 L480.2,61.5 L481.2,61.4 L482.3,61.7 L483.4,61.7 L484.4,61.5 L485.5,61.4 L486.6,60.6 L487.8,60.2 L488.9,59.7 L490,59.3 L491,58.5 L491.9,58.4 L492.7,57.4 L493.5,57.7 L494.3,57.1 L495,56.7 L495.6,56.6 L496.3,56.5 L497,56.3 L497.6,56.7 L498.3,57.8 L499,58.2 L499.7,59.3 L500.4,59.8 L501.2,61.1 L502,61.9 L503,62.8 L504.1,63.9 L505.2,64.6 L506.2,64.5 L507.1,63.9 L508,63.5 L508.8,62.1 L509.5,60.5 L510,59.3 L510.4,58.3 L510.7,56.6 L511,55.6 L511.3,54.5 L511.7,53 L512,52.6 L512.3,52.5 L512.6,52.2 L512.9,52.1 L513.2,51.4 L513.5,51.6 L513.8,52.3 L514.1,52.5 L514.4,53 L514.7,54.3 L515,55.6 L515.2,56.6 L515.4,58 L515.6,59 L515.7,59.5 L515.8,60.8 L515.9,61.8 L516,62.5 L516.1,63.1 L516.2,64.1 L516.3,65.6 L516.4,66 L516.5,66.8 L516.6,68.5 L516.7,68.9 L516.8,69.7 L516.9,70.4 L517,70.8 L517.1,72.2 L517.2,72.7 L517.4,74.4 L517.7,75.5 L518,77.2 L518.3,78 L518.5,77.3 L518.6,77.2 L518.7,75.6 L518.9,75.5 L519,74.6 L519.1,74.1 L519.3,73.5 L519.4,72.1 L519.5,71.1 L519.6,70.5 L519.8,69.7 L520,68.2 L520.4,68.3 L520.8,67.5 L521.4,67.5 L522,67.3 L522.7,67.1 L523.5,67.9 L524.4,67.8 L525.2,67.5 L526.1,67.2 L526.9,67.7 L527.7,67.6 L528.5,67 L529.3,67.8 L530.2,69.5 L530.9,70.3 L531.5,72 L531.8,72.9 L532,73.7 L532.1,73.9 L532.2,75.5 L532.3,75.9 L532.5,76.9 L532.7,77.5 L532.8,78.3 L533,78.8 L533.1,80 L533.2,80.7 L533.5,82.3 L533.8,83 L534.2,84.7 L534.8,86 L535.5,86.7 L536.5,87.1 L537.8,87.8 L539.2,88.3 L540.3,88.5 L541.2,89.2 L542,88.8 L542.7,89.9 L543.2,90.2 L543.6,91.3 L543.8,92.9 L544,94 L544.2,94.9 L544.4,96.2 L544.7,96.2 L544.9,97.1 L545.1,97.8 L545.3,99.1 L545.4,100.1 L545.5,101.1 L545.6,101.2 L545.7,102.7 L545.8,103.7 L545.9,104 L546.1,105.7 L546.2,106.4 L546.3,107.4 L546.4,107.5 L546.5,108.7 L546.7,109.2 L546.8,110.3 L546.9,111.4 L547,112.1 L547.1,112.8 L547.2,113.9 L547.4,114.8 L547.5,115 L547.7,115.4 L547.8,116.5 L548,116.9 L548.2,118 L548.4,119.6 L548.6,120 L548.7,121 L548.9,122.6 L549,123.3 L549.2,123.9 L549.3,125.2 L549.6,126.1 L550,126.9 L550.4,128 L550.9,128.7 L551.5,129 L552.2,129.5 L552.9,129.4 L553.7,129.3 L554.4,129.6 L555.1,129.5 L555.7,130.9 L556.3,131.6 L556.8,131.9 L557.1,133.2 L557.3,134.2 L557.4,134.9 L557.5,136.6 L557.7,137.6 L557.9,138.8 L558,139.3 L558.2,140.9 L558.3,141.6 L558.4,141.7 L558.5,143.2 L558.6,143.6 L558.7,144.6 L558.8,145.3 L558.9,146.7 L559,147.6 L559.1,147.9 L559.2,149.4 L559.3,150.3 L559.4,150.6 L559.4,151.2 L559.5,152.3 L559.6,152 L559.7,152.8 L559.8,154.5 L559.9,155.2 L560,156.2 L560.1,156.8 L560.2,158 L560.3,158.3 L560.4,159.5 L560.5,159.8 L560.6,160.5 L560.7,161.1 L560.9,162.2 L561,163.2 L561.1,163.6 L561.2,164.8 L561.3,165.9 L561.5,166.5 L561.6,167.5 L561.7,168 L561.8,169.2 L562,169.8 L562.1,171 L562.2,172 L562.3,172.5 L562.4,172.9 L562.6,174.4 L562.7,175 L562.8,175.7 L562.9,177 L563,177.9 L563.2,178.7 L563.3,179.1 L563.4,180.5 L563.5,181.3 L563.6,181.8 L563.7,183 L563.9,184.1 L564.1,184.8 L564.4,186.3 L564.6,186.6 L564.9,187.7 L565.1,189 L565.3,190.2 L565.6,190.6 L565.9,192.4 L566.4,193.2 L566.9,193.7 L567.5,194.7 L568,195.2 L568.3,194.3 L568.6,194.2 L568.8,193.1 L569,191.7 L569.2,191.2 L569.5,190.8 L569.8,189.6 L570,189.4 L570.2,188.3 L570.5,187.4 L570.8,186.3 L571,185.3 L571.2,184.1 L571.5,183 L571.7,182.5 L572,181.7 L572.4,180.2 L572.8,179.4 L573.2,178.7 L573.6,177.9 L574,177.9 L574.4,177.2 L574.8,177.8 L575.2,178.2 L575.6,179.5 L575.9,180.4 L576.3,181.6 L576.6,183.4 L576.9,183.8 L577.2,184 L577.5,183.9 L577.8,183.7 L578.1,183.5 L578.5,182.3 L578.9,180.7 L579.2,180 L579.5,179.7 L579.8,179.9 L580.1,180 L580.4,180.2 L580.7,180.5 L581.1,181 L581.5,182.5 L581.8,183.2 L582.1,183.5 L582.3,184.2 L582.5,185.1 L582.8,185.6 L583,187.3 L583.2,187.8 L583.5,188.3 L583.7,189 L583.9,190 L584.2,190.3 L584.4,191 L584.7,192.5 L584.9,193.2 L585.2,194.3 L585.4,195.4 L585.7,196 L586.1,195.5 L586.5,193.7 L587,193.2 L587.4,191.7 L587.8,190.8 L588.3,191 L588.7,189.9 L589.1,189.8 L589.5,188.8 L590,188 L590.4,187.3 L590.8,185.6 L591.2,184.7 L591.6,183.7 L592,183.2 L592.5,182.3 L593,181.1 L593.6,180.3 L594.2,179.7 L594.8,179.5 L595.3,179.1 L595.8,177.7 L596.4,177.2 L597,177.7 L597.7,177.5 L598.5,178.6 L599.2,180.5 L599.8,181.3 L600.1,182.1 L600.3,182.8 L600.4,183.5 L600.5,184.8 L600.7,185.8 L600.9,186 L601.1,187.5 L601.3,188.3 L601.4,189.1 L601.6,189.6 L601.8,190.1 L602,190.7 L602.3,191.3 L602.8,192 L603.2,193.2 L603.6,193.6 L604,193.3 L604.3,192.3 L604.7,192 L605,191.3 L605.3,191 L605.5,189.6 L605.8,188.6 L606.4,188.1 L607.3,186.7 L608.5,185.4 L609.7,185.1 L610.8,184.3 L611.6,183.8 L612.3,183.5 L612.9,182.5 L613.5,182.3 L614.2,181.8 L614.8,182.3 L615.5,181.9 L616.3,181 L617.3,180.1 L618.3,179.3 L619.5,177.5 L620.6,177 L621.7,176.6 L622.7,175.8 L623.8,175.9 L625,175.7 L626.4,175.3 L627.9,175.3 L629.3,175.8 L630.5,174.9 L631.4,174.7 L632,174.1 L632.6,173.9 L633.2,173.8 L633.8,173.3 L634.4,173.1 L635.1,171.8 L635.9,171.7 L636.9,170.7 L638.1,169.7 L639.3,169 L640.3,167.7 L641.1,167.7 L641.8,166.4 L642.4,166.6 L643,165.5 L643.7,165.2 L644.3,165 L645,164.4 L645.8,164.2 L646.8,163.5 L647.9,163 L649.1,161.8 L650.2,160.7 L651.3,159.7 L652.5,159 L653.6,158 L654.5,157 L655.2,155.3 L655.9,153.9 L656.4,152.5 L656.7,151.4" fill="none" stroke="#ff0000" stroke-width="3.0" stroke-linejoin="round"/>
<g stroke="#000" stroke-width="1.6" fill="none">
  <path d="M415.2,1.2 V305.3 M415,304.6 H657.4"/>
  <path d="M408,55.7 H415 M408,163.5 H415 M408,271.1 H415"/>
  <path d="M411.6,1.9 H415 M411.5,109.6 H415 M411.5,217.3 H415"/>
  <path d="M415.4,304.6 V311.5 M536.5,304.6 V311.5 M656.7,304.6 V311.5"/>
  <path d="M476,304.6 V308 M596.4,304.6 V308"/>
</g>
<g class="ax" font-size="20" text-anchor="end">
  <text x="402.6" y="61.9">0.0</text>
  <text x="402.6" y="169.8">-1.0k</text>
  <text x="402.6" y="277.2">-2.0k</text>
</g>
<g class="ax" font-size="20" text-anchor="middle">
  <text x="415.4" y="332.5">2500</text>
  <text x="536.5" y="332.5">3150</text>
  <text x="656.7" y="332.5">3800</text>
</g>
<g class="ax"><text x="509.3" y="357.5" font-size="19.5">B</text><text x="523.5" y="362.5" font-size="12">o</text><text x="536.3" y="357.5" font-size="19.5">/ G</text></g>
<text class="ax" transform="translate(353.2,153.1) rotate(-90)" font-size="20.25" text-anchor="middle">EPR signal intensity / a.u.</text>
<g class="lg" font-size="12.7">
  <text x="418.9" y="219">Reaction @ 190</text>
  <text x="514.6" y="213.8" font-size="8.2">o</text>
  <text x="519.2" y="219">C</text>
  <text x="418.9" y="234">40 vol.% H</text>
  <text x="480.5" y="237.9" font-size="8.2">2</text>
  <text x="418.9" y="253.2">2 vol.% O</text>
  <text x="474.5" y="256.6" font-size="8.2">2</text>
  <text x="418.9" y="271.7">1 vol.% CO</text>
  <text x="418.9" y="287.7">Balance He</text>
</g>
<path d="M663.8,221 V156" stroke="#000" stroke-width="1.3"/>
<path d="M663.8,147.4 L660.9,158.4 L666.6,158.4 Z" fill="#000"/>
<text class="lg2" transform="translate(684.3,185.2) rotate(-90)" font-size="16.5" text-anchor="middle">0-20 min</text>
</svg>
</body></html>
